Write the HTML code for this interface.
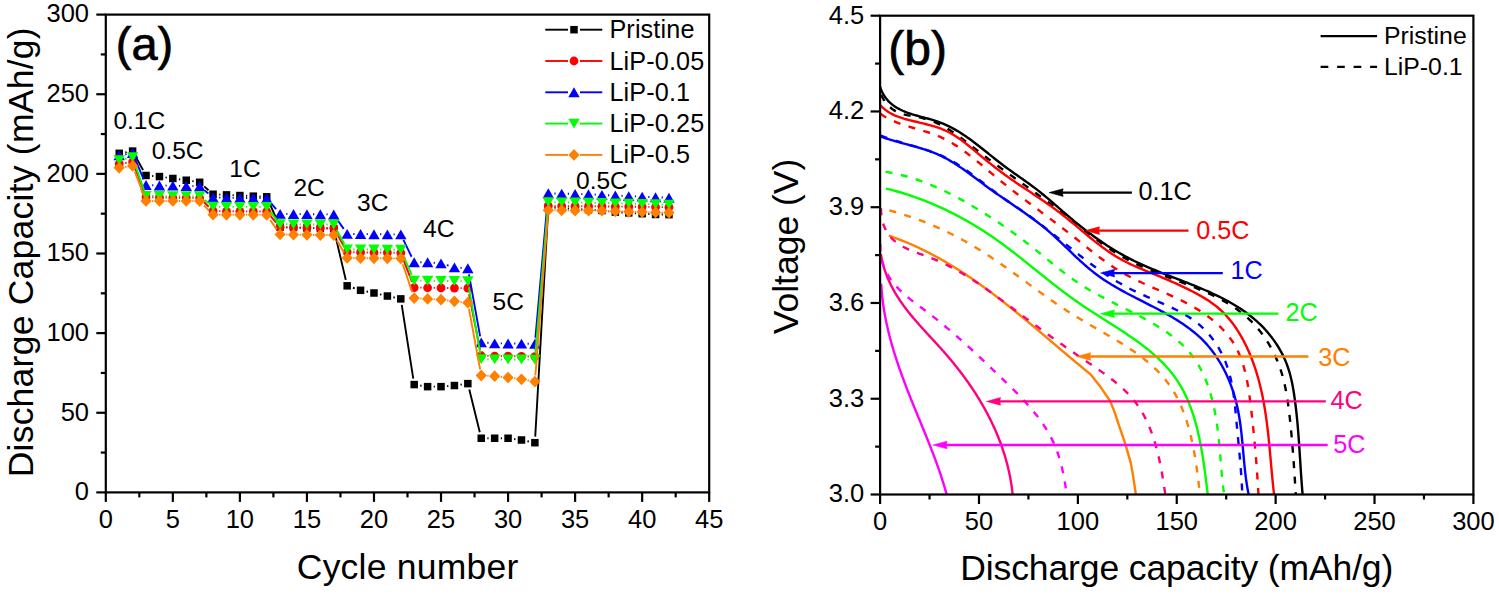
<!DOCTYPE html>
<html><head><meta charset="utf-8"><style>
html,body{margin:0;padding:0;background:#fff;}
svg{display:block;font-family:"Liberation Sans",sans-serif;}
</style></head><body>
<svg width="1499" height="594" viewBox="0 0 1499 594">
<rect width="1499" height="594" fill="#fff"/>
<line x1="105.80" y1="492.40" x2="105.80" y2="501.90" stroke="#000" stroke-width="2.2" />
<text x="105.80" y="528.00" font-size="25.5" text-anchor="middle" fill="#000" >0</text>
<line x1="172.84" y1="492.40" x2="172.84" y2="501.90" stroke="#000" stroke-width="2.2" />
<text x="172.84" y="528.00" font-size="25.5" text-anchor="middle" fill="#000" >5</text>
<line x1="239.89" y1="492.40" x2="239.89" y2="501.90" stroke="#000" stroke-width="2.2" />
<text x="239.89" y="528.00" font-size="25.5" text-anchor="middle" fill="#000" >10</text>
<line x1="306.93" y1="492.40" x2="306.93" y2="501.90" stroke="#000" stroke-width="2.2" />
<text x="306.93" y="528.00" font-size="25.5" text-anchor="middle" fill="#000" >15</text>
<line x1="373.98" y1="492.40" x2="373.98" y2="501.90" stroke="#000" stroke-width="2.2" />
<text x="373.98" y="528.00" font-size="25.5" text-anchor="middle" fill="#000" >20</text>
<line x1="441.02" y1="492.40" x2="441.02" y2="501.90" stroke="#000" stroke-width="2.2" />
<text x="441.02" y="528.00" font-size="25.5" text-anchor="middle" fill="#000" >25</text>
<line x1="508.07" y1="492.40" x2="508.07" y2="501.90" stroke="#000" stroke-width="2.2" />
<text x="508.07" y="528.00" font-size="25.5" text-anchor="middle" fill="#000" >30</text>
<line x1="575.11" y1="492.40" x2="575.11" y2="501.90" stroke="#000" stroke-width="2.2" />
<text x="575.11" y="528.00" font-size="25.5" text-anchor="middle" fill="#000" >35</text>
<line x1="642.16" y1="492.40" x2="642.16" y2="501.90" stroke="#000" stroke-width="2.2" />
<text x="642.16" y="528.00" font-size="25.5" text-anchor="middle" fill="#000" >40</text>
<line x1="709.20" y1="492.40" x2="709.20" y2="501.90" stroke="#000" stroke-width="2.2" />
<text x="709.20" y="528.00" font-size="25.5" text-anchor="middle" fill="#000" >45</text>
<line x1="139.32" y1="492.40" x2="139.32" y2="497.40" stroke="#000" stroke-width="2.2" />
<line x1="206.37" y1="492.40" x2="206.37" y2="497.40" stroke="#000" stroke-width="2.2" />
<line x1="273.41" y1="492.40" x2="273.41" y2="497.40" stroke="#000" stroke-width="2.2" />
<line x1="340.46" y1="492.40" x2="340.46" y2="497.40" stroke="#000" stroke-width="2.2" />
<line x1="407.50" y1="492.40" x2="407.50" y2="497.40" stroke="#000" stroke-width="2.2" />
<line x1="474.54" y1="492.40" x2="474.54" y2="497.40" stroke="#000" stroke-width="2.2" />
<line x1="541.59" y1="492.40" x2="541.59" y2="497.40" stroke="#000" stroke-width="2.2" />
<line x1="608.63" y1="492.40" x2="608.63" y2="497.40" stroke="#000" stroke-width="2.2" />
<line x1="675.68" y1="492.40" x2="675.68" y2="497.40" stroke="#000" stroke-width="2.2" />
<line x1="105.80" y1="492.40" x2="96.30" y2="492.40" stroke="#000" stroke-width="2.2" />
<text x="89.00" y="500.20" font-size="25.5" text-anchor="end" fill="#000" >0</text>
<line x1="105.80" y1="412.77" x2="96.30" y2="412.77" stroke="#000" stroke-width="2.2" />
<text x="89.00" y="420.57" font-size="25.5" text-anchor="end" fill="#000" >50</text>
<line x1="105.80" y1="333.13" x2="96.30" y2="333.13" stroke="#000" stroke-width="2.2" />
<text x="89.00" y="340.93" font-size="25.5" text-anchor="end" fill="#000" >100</text>
<line x1="105.80" y1="253.50" x2="96.30" y2="253.50" stroke="#000" stroke-width="2.2" />
<text x="89.00" y="261.30" font-size="25.5" text-anchor="end" fill="#000" >150</text>
<line x1="105.80" y1="173.87" x2="96.30" y2="173.87" stroke="#000" stroke-width="2.2" />
<text x="89.00" y="181.67" font-size="25.5" text-anchor="end" fill="#000" >200</text>
<line x1="105.80" y1="94.23" x2="96.30" y2="94.23" stroke="#000" stroke-width="2.2" />
<text x="89.00" y="102.03" font-size="25.5" text-anchor="end" fill="#000" >250</text>
<line x1="105.80" y1="14.60" x2="96.30" y2="14.60" stroke="#000" stroke-width="2.2" />
<text x="89.00" y="22.40" font-size="25.5" text-anchor="end" fill="#000" >300</text>
<line x1="105.80" y1="452.58" x2="100.80" y2="452.58" stroke="#000" stroke-width="2.2" />
<line x1="105.80" y1="372.95" x2="100.80" y2="372.95" stroke="#000" stroke-width="2.2" />
<line x1="105.80" y1="293.32" x2="100.80" y2="293.32" stroke="#000" stroke-width="2.2" />
<line x1="105.80" y1="213.68" x2="100.80" y2="213.68" stroke="#000" stroke-width="2.2" />
<line x1="105.80" y1="134.05" x2="100.80" y2="134.05" stroke="#000" stroke-width="2.2" />
<line x1="105.80" y1="54.42" x2="100.80" y2="54.42" stroke="#000" stroke-width="2.2" />
<line x1="880.10" y1="494.50" x2="880.10" y2="504.00" stroke="#000" stroke-width="2.2" />
<text x="880.10" y="530.00" font-size="25.5" text-anchor="middle" fill="#000" >0</text>
<line x1="978.98" y1="494.50" x2="978.98" y2="504.00" stroke="#000" stroke-width="2.2" />
<text x="978.98" y="530.00" font-size="25.5" text-anchor="middle" fill="#000" >50</text>
<line x1="1077.87" y1="494.50" x2="1077.87" y2="504.00" stroke="#000" stroke-width="2.2" />
<text x="1077.87" y="530.00" font-size="25.5" text-anchor="middle" fill="#000" >100</text>
<line x1="1176.75" y1="494.50" x2="1176.75" y2="504.00" stroke="#000" stroke-width="2.2" />
<text x="1176.75" y="530.00" font-size="25.5" text-anchor="middle" fill="#000" >150</text>
<line x1="1275.63" y1="494.50" x2="1275.63" y2="504.00" stroke="#000" stroke-width="2.2" />
<text x="1275.63" y="530.00" font-size="25.5" text-anchor="middle" fill="#000" >200</text>
<line x1="1374.52" y1="494.50" x2="1374.52" y2="504.00" stroke="#000" stroke-width="2.2" />
<text x="1374.52" y="530.00" font-size="25.5" text-anchor="middle" fill="#000" >250</text>
<line x1="1473.40" y1="494.50" x2="1473.40" y2="504.00" stroke="#000" stroke-width="2.2" />
<text x="1473.40" y="530.00" font-size="25.5" text-anchor="middle" fill="#000" >300</text>
<line x1="929.54" y1="494.50" x2="929.54" y2="499.50" stroke="#000" stroke-width="2.2" />
<line x1="1028.42" y1="494.50" x2="1028.42" y2="499.50" stroke="#000" stroke-width="2.2" />
<line x1="1127.31" y1="494.50" x2="1127.31" y2="499.50" stroke="#000" stroke-width="2.2" />
<line x1="1226.19" y1="494.50" x2="1226.19" y2="499.50" stroke="#000" stroke-width="2.2" />
<line x1="1325.08" y1="494.50" x2="1325.08" y2="499.50" stroke="#000" stroke-width="2.2" />
<line x1="1423.96" y1="494.50" x2="1423.96" y2="499.50" stroke="#000" stroke-width="2.2" />
<line x1="880.10" y1="494.50" x2="870.60" y2="494.50" stroke="#000" stroke-width="2.2" />
<text x="864.30" y="502.30" font-size="25.5" text-anchor="end" fill="#000" >3.0</text>
<line x1="880.10" y1="398.74" x2="870.60" y2="398.74" stroke="#000" stroke-width="2.2" />
<text x="864.30" y="406.54" font-size="25.5" text-anchor="end" fill="#000" >3.3</text>
<line x1="880.10" y1="302.98" x2="870.60" y2="302.98" stroke="#000" stroke-width="2.2" />
<text x="864.30" y="310.78" font-size="25.5" text-anchor="end" fill="#000" >3.6</text>
<line x1="880.10" y1="207.22" x2="870.60" y2="207.22" stroke="#000" stroke-width="2.2" />
<text x="864.30" y="215.02" font-size="25.5" text-anchor="end" fill="#000" >3.9</text>
<line x1="880.10" y1="111.46" x2="870.60" y2="111.46" stroke="#000" stroke-width="2.2" />
<text x="864.30" y="119.26" font-size="25.5" text-anchor="end" fill="#000" >4.2</text>
<line x1="880.10" y1="15.70" x2="870.60" y2="15.70" stroke="#000" stroke-width="2.2" />
<text x="864.30" y="23.50" font-size="25.5" text-anchor="end" fill="#000" >4.5</text>
<line x1="880.10" y1="446.62" x2="875.10" y2="446.62" stroke="#000" stroke-width="2.2" />
<line x1="880.10" y1="350.86" x2="875.10" y2="350.86" stroke="#000" stroke-width="2.2" />
<line x1="880.10" y1="255.10" x2="875.10" y2="255.10" stroke="#000" stroke-width="2.2" />
<line x1="880.10" y1="159.34" x2="875.10" y2="159.34" stroke="#000" stroke-width="2.2" />
<line x1="880.10" y1="63.58" x2="875.10" y2="63.58" stroke="#000" stroke-width="2.2" />
<text x="407.70" y="579.00" font-size="35.5" text-anchor="middle" fill="#000" letter-spacing="0.24">Cycle number</text>
<text x="33.30" y="252.30" font-size="35.5" text-anchor="middle" fill="#000" letter-spacing="0.24" transform="rotate(-90 33.3 252.3)">Discharge Capacity (mAh/g)</text>
<text x="1176.75" y="580.00" font-size="35.5" text-anchor="middle" fill="#000" letter-spacing="-0.12">Discharge capacity (mAh/g)</text>
<text x="798.40" y="246.50" font-size="35.5" text-anchor="middle" fill="#000" transform="rotate(-90 798.4 246.5)">Voltage (V)</text>
<text x="144.50" y="60.30" font-size="47" text-anchor="middle" fill="#000" stroke="#000" stroke-width="0.7">(a)</text>
<text x="917.70" y="65.00" font-size="48" text-anchor="middle" fill="#000" stroke="#000" stroke-width="0.7">(b)</text>
<path d="M125.23,152.32L126.60,152.09M135.56,156.44L143.09,170.12M152.11,175.96L153.36,176.07M165.47,177.43L166.81,177.62M178.89,179.28L180.20,179.45M192.28,181.17L193.63,181.38M204.22,186.37L208.52,190.20M219.16,194.54L220.39,194.60M232.57,195.18L233.80,195.24M245.98,195.82L247.20,195.87M259.39,196.45L260.61,196.51M269.17,202.38L277.66,221.64M286.21,227.37L287.43,227.39M299.62,227.76L300.84,227.80M313.03,228.16L314.24,228.19M326.44,228.48L327.65,228.51M335.14,234.59L345.77,279.89M352.95,287.76L354.78,288.37M366.55,291.50L368.00,291.79M379.93,294.34L381.44,294.68M393.35,297.30L394.83,297.62M401.74,304.92L413.26,378.55M420.23,385.51L421.58,385.72M433.71,386.65L434.92,386.65M447.10,386.14L448.35,386.04M460.47,384.67L461.80,384.48M469.29,389.55L479.79,432.33M487.35,438.25L488.56,438.25M500.76,438.25L501.97,438.25M514.12,439.04L515.43,439.21M527.45,441.21L528.91,441.50M535.23,436.62L547.95,213.40M554.38,207.67L555.61,207.75M567.79,208.47L569.02,208.54M581.20,209.27L582.43,209.34M594.61,210.06L595.84,210.14M607.99,211.22L609.28,211.37M621.43,212.45L622.66,212.53M634.84,213.25L636.07,213.32M648.24,214.04L649.48,214.12M661.66,214.55L662.87,214.57" stroke="#000000" stroke-width="1.9" fill="none"/>
<rect x="115.46" y="149.57" width="7.5" height="7.5" fill="#000000"/><rect x="128.87" y="147.34" width="7.5" height="7.5" fill="#000000"/><rect x="142.28" y="171.71" width="7.5" height="7.5" fill="#000000"/><rect x="155.69" y="172.82" width="7.5" height="7.5" fill="#000000"/><rect x="169.09" y="174.74" width="7.5" height="7.5" fill="#000000"/><rect x="182.50" y="176.49" width="7.5" height="7.5" fill="#000000"/><rect x="195.91" y="178.56" width="7.5" height="7.5" fill="#000000"/><rect x="209.32" y="190.50" width="7.5" height="7.5" fill="#000000"/><rect x="222.73" y="191.14" width="7.5" height="7.5" fill="#000000"/><rect x="236.14" y="191.78" width="7.5" height="7.5" fill="#000000"/><rect x="249.55" y="192.41" width="7.5" height="7.5" fill="#000000"/><rect x="262.96" y="193.05" width="7.5" height="7.5" fill="#000000"/><rect x="276.37" y="223.47" width="7.5" height="7.5" fill="#000000"/><rect x="289.77" y="223.79" width="7.5" height="7.5" fill="#000000"/><rect x="303.18" y="224.27" width="7.5" height="7.5" fill="#000000"/><rect x="316.59" y="224.59" width="7.5" height="7.5" fill="#000000"/><rect x="330.00" y="224.90" width="7.5" height="7.5" fill="#000000"/><rect x="343.41" y="282.08" width="7.5" height="7.5" fill="#000000"/><rect x="356.82" y="286.54" width="7.5" height="7.5" fill="#000000"/><rect x="370.23" y="289.25" width="7.5" height="7.5" fill="#000000"/><rect x="383.64" y="292.27" width="7.5" height="7.5" fill="#000000"/><rect x="397.05" y="295.14" width="7.5" height="7.5" fill="#000000"/><rect x="410.45" y="380.83" width="7.5" height="7.5" fill="#000000"/><rect x="423.86" y="382.90" width="7.5" height="7.5" fill="#000000"/><rect x="437.27" y="382.90" width="7.5" height="7.5" fill="#000000"/><rect x="450.68" y="381.78" width="7.5" height="7.5" fill="#000000"/><rect x="464.09" y="379.87" width="7.5" height="7.5" fill="#000000"/><rect x="477.50" y="434.50" width="7.5" height="7.5" fill="#000000"/><rect x="490.91" y="434.50" width="7.5" height="7.5" fill="#000000"/><rect x="504.32" y="434.50" width="7.5" height="7.5" fill="#000000"/><rect x="517.73" y="436.25" width="7.5" height="7.5" fill="#000000"/><rect x="531.13" y="438.96" width="7.5" height="7.5" fill="#000000"/><rect x="544.54" y="203.56" width="7.5" height="7.5" fill="#000000"/><rect x="557.95" y="204.36" width="7.5" height="7.5" fill="#000000"/><rect x="571.36" y="205.16" width="7.5" height="7.5" fill="#000000"/><rect x="584.77" y="205.95" width="7.5" height="7.5" fill="#000000"/><rect x="598.18" y="206.75" width="7.5" height="7.5" fill="#000000"/><rect x="611.59" y="208.34" width="7.5" height="7.5" fill="#000000"/><rect x="625.00" y="209.14" width="7.5" height="7.5" fill="#000000"/><rect x="638.41" y="209.93" width="7.5" height="7.5" fill="#000000"/><rect x="651.81" y="210.73" width="7.5" height="7.5" fill="#000000"/><rect x="665.22" y="210.89" width="7.5" height="7.5" fill="#000000"/>
<path d="M125.25,162.97L126.58,162.78M134.80,167.62L143.85,191.26M152.12,197.18L153.34,197.22M165.53,197.58L166.75,197.61M178.94,197.76L180.15,197.76M192.35,197.90L193.56,197.93M204.06,202.30L208.68,206.75M219.17,211.12L220.38,211.15M232.58,211.29L233.79,211.29M245.99,211.37L247.20,211.38M259.40,211.53L260.61,211.54M270.68,216.24L276.14,222.59M286.21,227.37L287.43,227.39M299.62,227.61L300.83,227.63M313.03,227.84L314.24,227.87M326.44,228.02L327.65,228.02M336.72,233.35L344.19,246.74M353.26,252.21L354.47,252.24M366.67,252.46L367.88,252.47M380.08,252.62L381.29,252.63M393.49,252.78L394.70,252.79M402.99,258.55L412.01,281.89M420.30,287.66L421.51,287.67M433.71,287.81L434.92,287.83M447.12,287.97L448.33,287.99M460.53,288.13L461.74,288.15M469.03,294.20L480.06,349.77M487.35,355.89L488.56,355.92M500.76,356.14L501.97,356.15M514.17,356.30L515.38,356.31M527.58,356.46L528.78,356.47M535.43,350.47L547.75,211.96M554.39,205.95L555.60,205.97M567.80,206.11L569.01,206.13M581.21,206.20L582.42,206.20M594.62,206.27L595.83,206.28M608.03,206.43L609.24,206.44M621.44,206.59L622.65,206.60M634.85,206.75L636.06,206.76M648.26,206.91L649.46,206.92M661.66,207.14L662.88,207.17" stroke="#FF0000" stroke-width="1.9" fill="none"/>
<circle cx="119.21" cy="163.83" r="4.4" fill="#FF0000"/><circle cx="132.62" cy="161.92" r="4.4" fill="#FF0000"/><circle cx="146.03" cy="196.96" r="4.4" fill="#FF0000"/><circle cx="159.44" cy="197.44" r="4.4" fill="#FF0000"/><circle cx="172.84" cy="197.76" r="4.4" fill="#FF0000"/><circle cx="186.25" cy="197.76" r="4.4" fill="#FF0000"/><circle cx="199.66" cy="198.08" r="4.4" fill="#FF0000"/><circle cx="213.07" cy="210.98" r="4.4" fill="#FF0000"/><circle cx="226.48" cy="211.29" r="4.4" fill="#FF0000"/><circle cx="239.89" cy="211.29" r="4.4" fill="#FF0000"/><circle cx="253.30" cy="211.45" r="4.4" fill="#FF0000"/><circle cx="266.71" cy="211.61" r="4.4" fill="#FF0000"/><circle cx="280.12" cy="227.22" r="4.4" fill="#FF0000"/><circle cx="293.52" cy="227.54" r="4.4" fill="#FF0000"/><circle cx="306.93" cy="227.70" r="4.4" fill="#FF0000"/><circle cx="320.34" cy="228.02" r="4.4" fill="#FF0000"/><circle cx="333.75" cy="228.02" r="4.4" fill="#FF0000"/><circle cx="347.16" cy="252.07" r="4.4" fill="#FF0000"/><circle cx="360.57" cy="252.39" r="4.4" fill="#FF0000"/><circle cx="373.98" cy="252.54" r="4.4" fill="#FF0000"/><circle cx="387.39" cy="252.70" r="4.4" fill="#FF0000"/><circle cx="400.80" cy="252.86" r="4.4" fill="#FF0000"/><circle cx="414.20" cy="287.58" r="4.4" fill="#FF0000"/><circle cx="427.61" cy="287.74" r="4.4" fill="#FF0000"/><circle cx="441.02" cy="287.90" r="4.4" fill="#FF0000"/><circle cx="454.43" cy="288.06" r="4.4" fill="#FF0000"/><circle cx="467.84" cy="288.22" r="4.4" fill="#FF0000"/><circle cx="481.25" cy="355.75" r="4.4" fill="#FF0000"/><circle cx="494.66" cy="356.07" r="4.4" fill="#FF0000"/><circle cx="508.07" cy="356.23" r="4.4" fill="#FF0000"/><circle cx="521.48" cy="356.39" r="4.4" fill="#FF0000"/><circle cx="534.88" cy="356.55" r="4.4" fill="#FF0000"/><circle cx="548.29" cy="205.88" r="4.4" fill="#FF0000"/><circle cx="561.70" cy="206.04" r="4.4" fill="#FF0000"/><circle cx="575.11" cy="206.20" r="4.4" fill="#FF0000"/><circle cx="588.52" cy="206.20" r="4.4" fill="#FF0000"/><circle cx="601.93" cy="206.36" r="4.4" fill="#FF0000"/><circle cx="615.34" cy="206.52" r="4.4" fill="#FF0000"/><circle cx="628.75" cy="206.68" r="4.4" fill="#FF0000"/><circle cx="642.16" cy="206.83" r="4.4" fill="#FF0000"/><circle cx="655.56" cy="206.99" r="4.4" fill="#FF0000"/><circle cx="668.97" cy="207.31" r="4.4" fill="#FF0000"/>
<path d="M125.21,154.32L126.61,154.07M134.97,158.63L143.67,179.39M152.12,185.23L153.34,185.28M165.54,185.57L166.74,185.58M178.94,185.80L180.16,185.83M192.35,186.12L193.56,186.14M204.35,190.19L208.38,193.54M219.17,197.58L220.38,197.61M232.58,197.83L233.79,197.84M245.99,197.99L247.20,198.00M259.40,198.15L260.61,198.16M270.68,202.86L276.14,209.22M286.22,213.92L287.42,213.93M299.62,214.07L300.83,214.09M313.03,214.23L314.24,214.25M326.44,214.39L327.65,214.41M337.22,219.50L343.70,228.89M353.26,233.98L354.47,234.00M366.67,234.14L367.88,234.16M380.08,234.30L381.29,234.32M393.49,234.39L394.70,234.39M403.44,239.88L411.56,256.76M420.30,262.26L421.51,262.26M433.69,262.77L434.94,262.87M446.87,265.11L448.58,265.62M460.52,267.79L461.76,267.88M468.93,274.31L480.16,336.37M487.33,342.80L488.57,342.89M500.76,343.40L501.97,343.41M514.17,343.56L515.38,343.57M527.58,343.72L528.78,343.73M535.43,337.73L547.75,199.37M554.39,193.44L555.60,193.47M567.80,193.76L569.01,193.79M581.21,194.08L582.42,194.11M594.61,194.54L595.84,194.60M608.02,195.18L609.24,195.24M621.43,195.82L622.65,195.87M634.84,196.38L636.06,196.42M648.25,196.93L649.47,196.99M661.66,197.50L662.88,197.54" stroke="#0000FF" stroke-width="1.9" fill="none"/>
<path d="M119.21,150.44L124.91,160.34L113.51,160.34Z" fill="#0000FF"/><path d="M132.62,148.05L138.32,157.95L126.92,157.95Z" fill="#0000FF"/><path d="M146.03,180.07L151.73,189.97L140.33,189.97Z" fill="#0000FF"/><path d="M159.44,180.54L165.14,190.44L153.74,190.44Z" fill="#0000FF"/><path d="M172.84,180.70L178.54,190.60L167.14,190.60Z" fill="#0000FF"/><path d="M186.25,181.02L191.95,190.92L180.55,190.92Z" fill="#0000FF"/><path d="M199.66,181.34L205.36,191.24L193.96,191.24Z" fill="#0000FF"/><path d="M213.07,192.49L218.77,202.39L207.37,202.39Z" fill="#0000FF"/><path d="M226.48,192.81L232.18,202.71L220.78,202.71Z" fill="#0000FF"/><path d="M239.89,192.97L245.59,202.87L234.19,202.87Z" fill="#0000FF"/><path d="M253.30,193.13L259.00,203.03L247.60,203.03Z" fill="#0000FF"/><path d="M266.71,193.28L272.41,203.18L261.01,203.18Z" fill="#0000FF"/><path d="M280.12,208.89L285.82,218.79L274.42,218.79Z" fill="#0000FF"/><path d="M293.52,209.05L299.22,218.95L287.82,218.95Z" fill="#0000FF"/><path d="M306.93,209.21L312.63,219.11L301.23,219.11Z" fill="#0000FF"/><path d="M320.34,209.37L326.04,219.27L314.64,219.27Z" fill="#0000FF"/><path d="M333.75,209.53L339.45,219.43L328.05,219.43Z" fill="#0000FF"/><path d="M347.16,228.96L352.86,238.86L341.46,238.86Z" fill="#0000FF"/><path d="M360.57,229.12L366.27,239.02L354.87,239.02Z" fill="#0000FF"/><path d="M373.98,229.28L379.68,239.18L368.28,239.18Z" fill="#0000FF"/><path d="M387.39,229.44L393.09,239.34L381.69,239.34Z" fill="#0000FF"/><path d="M400.80,229.44L406.50,239.34L395.10,239.34Z" fill="#0000FF"/><path d="M414.20,257.31L419.90,267.21L408.50,267.21Z" fill="#0000FF"/><path d="M427.61,257.31L433.31,267.21L421.91,267.21Z" fill="#0000FF"/><path d="M441.02,258.42L446.72,268.32L435.32,268.32Z" fill="#0000FF"/><path d="M454.43,262.41L460.13,272.31L448.73,272.31Z" fill="#0000FF"/><path d="M467.84,263.36L473.54,273.26L462.14,273.26Z" fill="#0000FF"/><path d="M481.25,337.42L486.95,347.32L475.55,347.32Z" fill="#0000FF"/><path d="M494.66,338.38L500.36,348.28L488.96,348.28Z" fill="#0000FF"/><path d="M508.07,338.54L513.77,348.44L502.37,348.44Z" fill="#0000FF"/><path d="M521.48,338.69L527.18,348.59L515.78,348.59Z" fill="#0000FF"/><path d="M534.88,338.85L540.58,348.75L529.18,348.75Z" fill="#0000FF"/><path d="M548.29,188.35L553.99,198.25L542.59,198.25Z" fill="#0000FF"/><path d="M561.70,188.67L567.40,198.57L556.00,198.57Z" fill="#0000FF"/><path d="M575.11,188.98L580.81,198.88L569.41,198.88Z" fill="#0000FF"/><path d="M588.52,189.30L594.22,199.20L582.82,199.20Z" fill="#0000FF"/><path d="M601.93,189.94L607.63,199.84L596.23,199.84Z" fill="#0000FF"/><path d="M615.34,190.58L621.04,200.48L609.64,200.48Z" fill="#0000FF"/><path d="M628.75,191.21L634.45,201.11L623.05,201.11Z" fill="#0000FF"/><path d="M642.16,191.69L647.86,201.59L636.46,201.59Z" fill="#0000FF"/><path d="M655.56,192.33L661.26,202.23L649.86,202.23Z" fill="#0000FF"/><path d="M668.97,192.81L674.67,202.71L663.27,202.71Z" fill="#0000FF"/>
<path d="M125.17,158.89L126.65,158.58M134.62,163.06L144.02,190.08M152.13,195.92L153.34,195.93M165.54,196.08L166.74,196.09M178.94,196.16L180.15,196.16M192.35,196.24L193.56,196.25M204.49,200.05L208.24,202.95M219.17,206.75L220.38,206.76M232.58,206.83L233.79,206.83M245.99,206.91L247.20,206.92M259.40,206.99L260.61,206.99M270.46,211.81L276.37,219.38M286.22,224.27L287.42,224.28M299.62,224.35L300.83,224.35M313.03,224.43L314.24,224.44M326.44,224.51L327.65,224.51M336.65,229.88L344.26,243.99M353.26,249.43L354.47,249.45M366.67,249.52L367.88,249.52M380.08,249.59L381.29,249.61M393.49,249.68L394.70,249.68M403.22,255.27L411.78,274.98M420.30,280.65L421.51,280.66M433.71,280.81L434.92,280.82M447.12,280.97L448.33,280.98M460.53,281.13L461.74,281.14M468.87,287.22L480.22,353.24M487.35,359.33L488.56,359.34M500.76,359.48L501.97,359.50M514.17,359.57L515.38,359.57M527.58,359.64L528.78,359.66M535.40,353.65L547.78,208.29M554.39,202.29L555.60,202.30M567.80,202.45L569.01,202.46M581.21,202.61L582.42,202.62M594.62,202.84L595.83,202.87M608.03,203.16L609.24,203.19M621.44,203.48L622.65,203.50M634.84,203.79L636.06,203.82M648.25,204.11L649.47,204.14M661.66,204.43L662.88,204.46" stroke="#00FF00" stroke-width="1.9" fill="none"/>
<path d="M119.21,165.12L124.91,155.22L113.51,155.22Z" fill="#00FF00"/><path d="M132.62,162.25L138.32,152.35L126.92,152.35Z" fill="#00FF00"/><path d="M146.03,200.80L151.73,190.90L140.33,190.90Z" fill="#00FF00"/><path d="M159.44,200.95L165.14,191.05L153.74,191.05Z" fill="#00FF00"/><path d="M172.84,201.11L178.54,191.21L167.14,191.21Z" fill="#00FF00"/><path d="M186.25,201.11L191.95,191.21L180.55,191.21Z" fill="#00FF00"/><path d="M199.66,201.27L205.36,191.37L193.96,191.37Z" fill="#00FF00"/><path d="M213.07,211.63L218.77,201.73L207.37,201.73Z" fill="#00FF00"/><path d="M226.48,211.78L232.18,201.88L220.78,201.88Z" fill="#00FF00"/><path d="M239.89,211.78L245.59,201.88L234.19,201.88Z" fill="#00FF00"/><path d="M253.30,211.94L259.00,202.04L247.60,202.04Z" fill="#00FF00"/><path d="M266.71,211.94L272.41,202.04L261.01,202.04Z" fill="#00FF00"/><path d="M280.12,229.14L285.82,219.24L274.42,219.24Z" fill="#00FF00"/><path d="M293.52,229.30L299.22,219.40L287.82,219.40Z" fill="#00FF00"/><path d="M306.93,229.30L312.63,219.40L301.23,219.40Z" fill="#00FF00"/><path d="M320.34,229.46L326.04,219.56L314.64,219.56Z" fill="#00FF00"/><path d="M333.75,229.46L339.45,219.56L328.05,219.56Z" fill="#00FF00"/><path d="M347.16,254.31L352.86,244.41L341.46,244.41Z" fill="#00FF00"/><path d="M360.57,254.47L366.27,244.57L354.87,244.57Z" fill="#00FF00"/><path d="M373.98,254.47L379.68,244.57L368.28,244.57Z" fill="#00FF00"/><path d="M387.39,254.63L393.09,244.73L381.69,244.73Z" fill="#00FF00"/><path d="M400.80,254.63L406.50,244.73L395.10,244.73Z" fill="#00FF00"/><path d="M414.20,285.53L419.90,275.63L408.50,275.63Z" fill="#00FF00"/><path d="M427.61,285.68L433.31,275.78L421.91,275.78Z" fill="#00FF00"/><path d="M441.02,285.84L446.72,275.94L435.32,275.94Z" fill="#00FF00"/><path d="M454.43,286.00L460.13,276.10L448.73,276.10Z" fill="#00FF00"/><path d="M467.84,286.16L473.54,276.26L462.14,276.26Z" fill="#00FF00"/><path d="M481.25,364.20L486.95,354.30L475.55,354.30Z" fill="#00FF00"/><path d="M494.66,364.36L500.36,354.46L488.96,354.46Z" fill="#00FF00"/><path d="M508.07,364.52L513.77,354.62L502.37,354.62Z" fill="#00FF00"/><path d="M521.48,364.52L527.18,354.62L515.78,354.62Z" fill="#00FF00"/><path d="M534.88,364.68L540.58,354.78L529.18,354.78Z" fill="#00FF00"/><path d="M548.29,207.17L553.99,197.27L542.59,197.27Z" fill="#00FF00"/><path d="M561.70,207.33L567.40,197.43L556.00,197.43Z" fill="#00FF00"/><path d="M575.11,207.48L580.81,197.58L569.41,197.58Z" fill="#00FF00"/><path d="M588.52,207.64L594.22,197.74L582.82,197.74Z" fill="#00FF00"/><path d="M601.93,207.96L607.63,198.06L596.23,198.06Z" fill="#00FF00"/><path d="M615.34,208.28L621.04,198.38L609.64,198.38Z" fill="#00FF00"/><path d="M628.75,208.60L634.45,198.70L623.05,198.70Z" fill="#00FF00"/><path d="M642.16,208.92L647.86,199.02L636.46,199.02Z" fill="#00FF00"/><path d="M655.56,209.24L661.26,199.34L649.86,199.34Z" fill="#00FF00"/><path d="M668.97,209.56L674.67,199.66L663.27,199.66Z" fill="#00FF00"/>
<path d="M125.25,166.95L126.58,166.76M134.80,171.60L143.85,195.24M152.13,200.94L153.34,200.94M165.54,200.94L166.74,200.94M178.94,200.94L180.15,200.94M192.35,201.01L193.56,201.03M203.95,205.44L208.78,210.31M219.17,214.71L220.38,214.73M232.58,214.80L233.79,214.80M245.99,214.80L247.20,214.80M259.40,214.87L260.61,214.89M270.17,219.98L276.65,229.37M286.21,234.53L287.43,234.56M299.62,234.78L300.83,234.79M313.03,234.94L314.24,234.95M326.44,235.03L327.65,235.03M336.83,240.29L344.08,252.69M353.26,258.03L354.47,258.05M366.67,258.19L367.88,258.21M380.08,258.28L381.29,258.28M393.49,258.35L394.70,258.36M402.75,264.22L412.25,292.32M420.29,298.46L421.52,298.53M433.70,299.25L434.93,299.33M447.08,300.41L448.37,300.56M460.50,301.93L461.77,302.07M468.95,308.71L480.14,369.50M487.34,375.79L488.56,375.85M500.72,376.78L502.00,376.92M514.12,378.36L515.43,378.53M527.49,380.32L528.87,380.55M535.36,375.47L547.82,216.26M554.39,210.25L555.60,210.27M567.80,210.41L569.01,210.43M581.21,210.50L582.42,210.50M594.62,210.57L595.83,210.58M608.02,210.95L609.24,211.00M621.43,211.51L622.65,211.55M634.84,211.92L636.06,211.95M648.25,212.24L649.47,212.26M661.66,212.55L662.88,212.58" stroke="#FF8000" stroke-width="1.9" fill="none"/>
<path d="M119.21,161.91L124.81,167.81L119.21,173.71L113.61,167.81Z" fill="#FF8000"/><path d="M132.62,160.00L138.22,165.90L132.62,171.80L127.02,165.90Z" fill="#FF8000"/><path d="M146.03,195.04L151.63,200.94L146.03,206.84L140.43,200.94Z" fill="#FF8000"/><path d="M159.44,195.04L165.04,200.94L159.44,206.84L153.84,200.94Z" fill="#FF8000"/><path d="M172.84,195.04L178.44,200.94L172.84,206.84L167.24,200.94Z" fill="#FF8000"/><path d="M186.25,195.04L191.85,200.94L186.25,206.84L180.65,200.94Z" fill="#FF8000"/><path d="M199.66,195.20L205.26,201.10L199.66,207.00L194.06,201.10Z" fill="#FF8000"/><path d="M213.07,208.74L218.67,214.64L213.07,220.54L207.47,214.64Z" fill="#FF8000"/><path d="M226.48,208.90L232.08,214.80L226.48,220.70L220.88,214.80Z" fill="#FF8000"/><path d="M239.89,208.90L245.49,214.80L239.89,220.70L234.29,214.80Z" fill="#FF8000"/><path d="M253.30,208.90L258.90,214.80L253.30,220.70L247.70,214.80Z" fill="#FF8000"/><path d="M266.71,209.06L272.31,214.96L266.71,220.86L261.11,214.96Z" fill="#FF8000"/><path d="M280.12,228.49L285.72,234.39L280.12,240.29L274.52,234.39Z" fill="#FF8000"/><path d="M293.52,228.81L299.12,234.71L293.52,240.61L287.92,234.71Z" fill="#FF8000"/><path d="M306.93,228.97L312.53,234.87L306.93,240.77L301.33,234.87Z" fill="#FF8000"/><path d="M320.34,229.13L325.94,235.03L320.34,240.93L314.74,235.03Z" fill="#FF8000"/><path d="M333.75,229.13L339.35,235.03L333.75,240.93L328.15,235.03Z" fill="#FF8000"/><path d="M347.16,252.06L352.76,257.96L347.16,263.86L341.56,257.96Z" fill="#FF8000"/><path d="M360.57,252.22L366.17,258.12L360.57,264.02L354.97,258.12Z" fill="#FF8000"/><path d="M373.98,252.38L379.58,258.28L373.98,264.18L368.38,258.28Z" fill="#FF8000"/><path d="M387.39,252.38L392.99,258.28L387.39,264.18L381.79,258.28Z" fill="#FF8000"/><path d="M400.80,252.54L406.40,258.44L400.80,264.34L395.20,258.44Z" fill="#FF8000"/><path d="M414.20,292.19L419.80,298.09L414.20,303.99L408.60,298.09Z" fill="#FF8000"/><path d="M427.61,292.99L433.21,298.89L427.61,304.79L422.01,298.89Z" fill="#FF8000"/><path d="M441.02,293.79L446.62,299.69L441.02,305.59L435.42,299.69Z" fill="#FF8000"/><path d="M454.43,295.38L460.03,301.28L454.43,307.18L448.83,301.28Z" fill="#FF8000"/><path d="M467.84,296.81L473.44,302.71L467.84,308.61L462.24,302.71Z" fill="#FF8000"/><path d="M481.25,369.60L486.85,375.50L481.25,381.40L475.65,375.50Z" fill="#FF8000"/><path d="M494.66,370.24L500.26,376.14L494.66,382.04L489.06,376.14Z" fill="#FF8000"/><path d="M508.07,371.67L513.67,377.57L508.07,383.47L502.47,377.57Z" fill="#FF8000"/><path d="M521.48,373.42L527.08,379.32L521.48,385.22L515.88,379.32Z" fill="#FF8000"/><path d="M534.88,375.65L540.48,381.55L534.88,387.45L529.28,381.55Z" fill="#FF8000"/><path d="M548.29,204.28L553.89,210.18L548.29,216.08L542.69,210.18Z" fill="#FF8000"/><path d="M561.70,204.44L567.30,210.34L561.70,216.24L556.10,210.34Z" fill="#FF8000"/><path d="M575.11,204.60L580.71,210.50L575.11,216.40L569.51,210.50Z" fill="#FF8000"/><path d="M588.52,204.60L594.12,210.50L588.52,216.40L582.92,210.50Z" fill="#FF8000"/><path d="M601.93,204.76L607.53,210.66L601.93,216.56L596.33,210.66Z" fill="#FF8000"/><path d="M615.34,205.39L620.94,211.29L615.34,217.19L609.74,211.29Z" fill="#FF8000"/><path d="M628.75,205.87L634.35,211.77L628.75,217.67L623.15,211.77Z" fill="#FF8000"/><path d="M642.16,206.19L647.76,212.09L642.16,217.99L636.56,212.09Z" fill="#FF8000"/><path d="M655.56,206.51L661.16,212.41L655.56,218.31L649.96,212.41Z" fill="#FF8000"/><path d="M668.97,206.83L674.57,212.73L668.97,218.63L663.37,212.73Z" fill="#FF8000"/>
<text x="113.40" y="129.00" font-size="24.5" text-anchor="start" fill="#000" >0.1C</text>
<text x="151.80" y="159.30" font-size="24.5" text-anchor="start" fill="#000" >0.5C</text>
<text x="229.30" y="177.40" font-size="24.5" text-anchor="start" fill="#000" >1C</text>
<text x="293.40" y="195.80" font-size="24.5" text-anchor="start" fill="#000" >2C</text>
<text x="357.00" y="210.80" font-size="24.5" text-anchor="start" fill="#000" >3C</text>
<text x="423.10" y="236.60" font-size="24.5" text-anchor="start" fill="#000" >4C</text>
<text x="492.60" y="310.00" font-size="24.5" text-anchor="start" fill="#000" >5C</text>
<text x="576.00" y="188.80" font-size="24.5" text-anchor="start" fill="#000" >0.5C</text>
<line x1="545.30" y1="29.70" x2="568.00" y2="29.70" stroke="#000000" stroke-width="1.9" />
<line x1="580.00" y1="29.70" x2="602.30" y2="29.70" stroke="#000000" stroke-width="1.9" />
<rect x="570.25" y="25.95" width="7.5" height="7.5" fill="#000000"/>
<text x="609.40" y="38.20" font-size="25.2" text-anchor="start" fill="#000" letter-spacing="0.15">Pristine</text>
<line x1="545.30" y1="61.00" x2="568.00" y2="61.00" stroke="#FF0000" stroke-width="1.9" />
<line x1="580.00" y1="61.00" x2="602.30" y2="61.00" stroke="#FF0000" stroke-width="1.9" />
<circle cx="574.00" cy="61.00" r="4.4" fill="#FF0000"/>
<text x="609.40" y="69.50" font-size="25.2" text-anchor="start" fill="#000" letter-spacing="0.15">LiP-0.05</text>
<line x1="545.30" y1="92.30" x2="568.00" y2="92.30" stroke="#0000FF" stroke-width="1.9" />
<line x1="580.00" y1="92.30" x2="602.30" y2="92.30" stroke="#0000FF" stroke-width="1.9" />
<path d="M574.00,87.35L579.70,97.25L568.30,97.25Z" fill="#0000FF"/>
<text x="609.40" y="100.80" font-size="25.2" text-anchor="start" fill="#000" letter-spacing="0.15">LiP-0.1</text>
<line x1="545.30" y1="123.60" x2="568.00" y2="123.60" stroke="#00FF00" stroke-width="1.9" />
<line x1="580.00" y1="123.60" x2="602.30" y2="123.60" stroke="#00FF00" stroke-width="1.9" />
<path d="M574.00,128.55L579.70,118.65L568.30,118.65Z" fill="#00FF00"/>
<text x="609.40" y="132.10" font-size="25.2" text-anchor="start" fill="#000" letter-spacing="0.15">LiP-0.25</text>
<line x1="545.30" y1="154.90" x2="568.00" y2="154.90" stroke="#FF8000" stroke-width="1.9" />
<line x1="580.00" y1="154.90" x2="602.30" y2="154.90" stroke="#FF8000" stroke-width="1.9" />
<path d="M574.00,149.00L579.60,154.90L574.00,160.80L568.40,154.90Z" fill="#FF8000"/>
<text x="609.40" y="163.40" font-size="25.2" text-anchor="start" fill="#000" letter-spacing="0.15">LiP-0.5</text>
<rect x="105.80" y="14.60" width="603.40" height="477.80" fill="none" stroke="#000" stroke-width="2.2"/>
<g fill="none" stroke-width="2.4" stroke-linejoin="round">
<path d="M879.92,86.51 L880.89,89.20 L881.99,91.70 L883.20,94.04 L884.52,96.21 L885.95,98.23 L887.48,100.09 L889.10,101.82 L890.82,103.42 L892.61,104.90 L894.49,106.26 L896.44,107.52 L898.46,108.68 L900.54,109.75 L902.68,110.75 L904.87,111.67 L907.11,112.52 L909.38,113.32 L911.69,114.08 L914.04,114.79 L916.40,115.48 L918.78,116.14 L921.18,116.80 L923.59,117.44 L925.99,118.09 L928.40,118.75 L930.79,119.43 L933.17,120.14 L935.53,120.89 L937.87,121.68 L940.17,122.52 L942.44,123.42 L944.69,124.37 L946.90,125.38 L949.08,126.43 L951.24,127.53 L953.38,128.67 L955.49,129.85 L957.57,131.07 L959.64,132.33 L961.69,133.63 L963.72,134.95 L965.73,136.31 L967.72,137.69 L969.71,139.10 L971.67,140.53 L973.63,141.99 L975.58,143.46 L977.52,144.95 L979.45,146.45 L981.37,147.97 L983.29,149.49 L985.21,151.02 L987.13,152.56 L989.04,154.10 L990.95,155.64 L992.87,157.18 L994.79,158.71 L996.72,160.23 L998.65,161.75 L1000.59,163.26 L1002.54,164.75 L1004.49,166.23 L1006.46,167.69 L1008.44,169.14 L1010.43,170.57 L1012.43,171.99 L1014.42,173.40 L1016.43,174.81 L1018.43,176.22 L1020.44,177.62 L1022.44,179.03 L1024.44,180.44 L1026.44,181.86 L1028.43,183.29 L1030.41,184.72 L1032.39,186.17 L1034.35,187.64 L1036.30,189.13 L1038.24,190.64 L1040.17,192.16 L1042.08,193.70 L1043.98,195.26 L1045.87,196.84 L1047.76,198.42 L1049.64,200.01 L1051.51,201.62 L1053.37,203.23 L1055.24,204.84 L1057.10,206.46 L1058.95,208.07 L1060.81,209.69 L1062.66,211.30 L1064.52,212.91 L1066.38,214.51 L1068.25,216.11 L1070.11,217.69 L1071.99,219.26 L1073.86,220.82 L1075.75,222.37 L1077.64,223.91 L1079.53,225.44 L1081.44,226.95 L1083.34,228.46 L1085.26,229.94 L1087.18,231.42 L1089.12,232.88 L1091.06,234.33 L1093.01,235.77 L1094.96,237.18 L1096.93,238.59 L1098.91,239.98 L1100.89,241.35 L1102.89,242.71 L1104.90,244.05 L1106.92,245.38 L1108.95,246.68 L1110.99,247.98 L1113.04,249.25 L1115.11,250.50 L1117.19,251.74 L1119.28,252.96 L1121.38,254.16 L1123.50,255.34 L1125.63,256.50 L1127.78,257.64 L1129.94,258.76 L1132.12,259.86 L1134.31,260.95 L1136.52,262.01 L1138.73,263.05 L1140.96,264.08 L1143.20,265.09 L1145.45,266.09 L1147.72,267.07 L1149.99,268.05 L1152.27,269.01 L1154.55,269.95 L1156.85,270.89 L1159.15,271.83 L1161.45,272.75 L1163.76,273.67 L1166.08,274.58 L1168.39,275.49 L1170.71,276.39 L1173.04,277.29 L1175.36,278.19 L1177.68,279.09 L1180.00,279.99 L1182.32,280.90 L1184.64,281.80 L1186.96,282.71 L1189.27,283.62 L1191.58,284.54 L1193.88,285.47 L1196.18,286.40 L1198.47,287.34 L1200.76,288.29 L1203.03,289.26 L1205.30,290.23 L1207.56,291.22 L1209.81,292.22 L1212.04,293.24 L1214.27,294.27 L1216.48,295.32 L1218.68,296.38 L1220.87,297.47 L1223.04,298.57 L1225.19,299.70 L1227.33,300.85 L1229.45,302.02 L1231.56,303.21 L1233.65,304.44 L1235.71,305.68 L1237.76,306.95 L1239.79,308.26 L1241.79,309.59 L1243.77,310.95 L1245.73,312.34 L1247.67,313.76 L1249.58,315.22 L1251.47,316.71 L1253.33,318.24 L1255.17,319.80 L1256.97,321.40 L1258.75,323.04 L1260.50,324.71 L1262.22,326.43 L1263.91,328.19 L1265.57,329.99 L1267.20,331.83 L1268.79,333.71 L1270.35,335.64 L1271.87,337.59 L1273.34,339.59 L1274.78,341.61 L1276.18,343.67 L1277.52,345.76 L1278.83,347.88 L1280.08,350.03 L1281.28,352.20 L1282.43,354.40 L1283.53,356.62 L1284.57,358.86 L1285.55,361.12 L1286.48,363.41 L1287.34,365.71 L1288.15,368.02 L1288.89,370.35 L1289.59,372.69 L1290.24,375.05 L1290.84,377.42 L1291.40,379.80 L1291.92,382.19 L1292.41,384.58 L1292.86,386.99 L1293.28,389.40 L1293.68,391.82 L1294.06,394.24 L1294.42,396.67 L1294.76,399.09 L1295.09,401.52 L1295.40,403.96 L1295.70,406.39 L1295.99,408.83 L1296.27,411.27 L1296.53,413.71 L1296.79,416.15 L1297.03,418.59 L1297.27,421.04 L1297.49,423.48 L1297.71,425.93 L1297.92,428.37 L1298.12,430.82 L1298.31,433.27 L1298.50,435.72 L1298.68,438.17 L1298.86,440.62 L1299.03,443.08 L1299.20,445.53 L1299.36,447.98 L1299.53,450.43 L1299.69,452.88 L1299.84,455.34 L1300.00,457.79 L1300.16,460.24 L1300.31,462.69 L1300.47,465.14 L1300.62,467.59 L1300.78,470.04 L1300.94,472.48 L1301.11,474.93 L1301.27,477.38 L1301.44,479.82 L1301.62,482.26 L1301.80,484.70 L1301.99,487.14 L1302.18,489.58 L1302.37,492.02 L1302.58,494.45" stroke="#000000"/>
<path d="M881.10,94.81 L882.33,97.27 L883.66,99.57 L885.10,101.72 L886.65,103.71 L888.29,105.55 L890.03,107.23 L891.87,108.75 L893.80,110.11 L895.82,111.31 L897.93,112.34 L900.13,113.22 L902.39,113.98 L904.72,114.62 L907.09,115.18 L909.49,115.68 L911.92,116.13 L914.36,116.56 L916.80,116.99 L919.23,117.44 L921.63,117.93 L924.00,118.50 L926.33,119.13 L928.62,119.84 L930.87,120.61 L933.09,121.45 L935.27,122.35 L937.43,123.31 L939.55,124.32 L941.64,125.39 L943.71,126.50 L945.76,127.66 L947.78,128.87 L949.78,130.11 L951.76,131.40 L953.73,132.71 L955.68,134.06 L957.61,135.43 L959.53,136.83 L961.44,138.25 L963.35,139.69 L965.24,141.14 L967.14,142.60 L969.02,144.07 L970.91,145.55 L972.80,147.03 L974.68,148.51 L976.58,149.99 L978.47,151.46 L980.38,152.92 L982.29,154.38 L984.20,155.83 L986.12,157.27 L988.04,158.71 L989.97,160.14 L991.90,161.56 L993.83,162.98 L995.77,164.40 L997.71,165.82 L999.66,167.22 L1001.60,168.63 L1003.55,170.03 L1005.50,171.43 L1007.46,172.83 L1009.41,174.23 L1011.36,175.63 L1013.32,177.02 L1015.28,178.41 L1017.23,179.81 L1019.19,181.20 L1021.14,182.59 L1023.10,183.98 L1025.05,185.38 L1027.01,186.78 L1028.96,188.17 L1030.91,189.57 L1032.86,190.98 L1034.80,192.38 L1036.75,193.79 L1038.69,195.20 L1040.62,196.62 L1042.56,198.04 L1044.49,199.46 L1046.41,200.89 L1048.34,202.33 L1050.25,203.77 L1052.17,205.22 L1054.07,206.67 L1055.98,208.13 L1057.87,209.60 L1059.76,211.07 L1061.65,212.55 L1063.54,214.03 L1065.42,215.51 L1067.30,217.00 L1069.18,218.48 L1071.06,219.97 L1072.93,221.46 L1074.81,222.94 L1076.69,224.43 L1078.57,225.91 L1080.45,227.39 L1082.33,228.86 L1084.22,230.33 L1086.11,231.79 L1088.00,233.25 L1089.90,234.70 L1091.81,236.13 L1093.72,237.56 L1095.63,238.98 L1097.56,240.39 L1099.49,241.79 L1101.43,243.17 L1103.37,244.55 L1105.33,245.90 L1107.30,247.24 L1109.27,248.57 L1111.26,249.88 L1113.26,251.17 L1115.27,252.44 L1117.30,253.70 L1119.33,254.93 L1121.39,256.14 L1123.45,257.34 L1125.53,258.51 L1127.63,259.65 L1129.74,260.77 L1131.87,261.87 L1134.02,262.94 L1136.18,264.00 L1138.35,265.03 L1140.54,266.04 L1142.74,267.03 L1144.95,268.00 L1147.17,268.96 L1149.40,269.90 L1151.64,270.83 L1153.89,271.75 L1156.14,272.65 L1158.41,273.55 L1160.67,274.43 L1162.95,275.31 L1165.22,276.18 L1167.50,277.05 L1169.78,277.91 L1172.07,278.77 L1174.35,279.63 L1176.63,280.49 L1178.91,281.35 L1181.19,282.21 L1183.47,283.07 L1185.74,283.94 L1188.01,284.82 L1190.27,285.70 L1192.53,286.59 L1194.78,287.49 L1197.02,288.40 L1199.25,289.32 L1201.47,290.25 L1203.69,291.20 L1205.89,292.17 L1208.07,293.15 L1210.25,294.15 L1212.41,295.17 L1214.56,296.21 L1216.69,297.27 L1218.80,298.35 L1220.90,299.46 L1222.97,300.59 L1225.03,301.75 L1227.07,302.94 L1229.09,304.16 L1231.09,305.40 L1233.06,306.68 L1235.01,307.99 L1236.94,309.34 L1238.84,310.72 L1240.71,312.13 L1242.56,313.59 L1244.38,315.08 L1246.18,316.61 L1247.94,318.19 L1249.67,319.80 L1251.37,321.46 L1253.04,323.17 L1254.68,324.92 L1256.28,326.71 L1257.85,328.54 L1259.39,330.41 L1260.89,332.32 L1262.35,334.26 L1263.78,336.24 L1265.17,338.25 L1266.52,340.29 L1267.83,342.36 L1269.10,344.45 L1270.33,346.57 L1271.52,348.71 L1272.67,350.87 L1273.78,353.05 L1274.84,355.25 L1275.86,357.46 L1276.84,359.68 L1277.76,361.92 L1278.65,364.17 L1279.48,366.43 L1280.27,368.69 L1281.02,370.96 L1281.73,373.24 L1282.40,375.53 L1283.03,377.82 L1283.62,380.12 L1284.18,382.43 L1284.71,384.74 L1285.21,387.06 L1285.68,389.39 L1286.13,391.72 L1286.54,394.06 L1286.94,396.41 L1287.31,398.76 L1287.67,401.11 L1288.01,403.47 L1288.33,405.84 L1288.64,408.20 L1288.93,410.58 L1289.22,412.96 L1289.50,415.34 L1289.76,417.72 L1290.03,420.11 L1290.28,422.50 L1290.53,424.90 L1290.77,427.30 L1291.01,429.70 L1291.24,432.10 L1291.46,434.51 L1291.68,436.91 L1291.89,439.32 L1292.10,441.73 L1292.30,444.14 L1292.49,446.55 L1292.69,448.96 L1292.87,451.37 L1293.06,453.78 L1293.24,456.19 L1293.42,458.60 L1293.59,461.01 L1293.76,463.41 L1293.93,465.82 L1294.09,468.22 L1294.25,470.62 L1294.41,473.02 L1294.57,475.42 L1294.72,477.81 L1294.88,480.20 L1295.03,482.59 L1295.18,484.97 L1295.33,487.35 L1295.48,489.73 L1295.63,492.10 L1295.78,494.46" stroke="#000000" stroke-dasharray="7 8.5"/>
<path d="M880.26,105.06 L881.92,106.80 L883.64,108.39 L885.43,109.86 L887.28,111.21 L889.19,112.44 L891.15,113.57 L893.16,114.60 L895.22,115.54 L897.31,116.41 L899.44,117.20 L901.61,117.93 L903.79,118.61 L906.01,119.24 L908.24,119.84 L910.48,120.41 L912.74,120.96 L915.00,121.50 L917.27,122.03 L919.53,122.57 L921.79,123.11 L924.05,123.66 L926.29,124.22 L928.53,124.81 L930.76,125.41 L932.97,126.05 L935.16,126.72 L937.34,127.43 L939.49,128.19 L941.61,128.99 L943.71,129.84 L945.78,130.76 L947.82,131.73 L949.82,132.77 L951.80,133.87 L953.74,135.02 L955.66,136.22 L957.56,137.47 L959.44,138.76 L961.29,140.09 L963.13,141.46 L964.96,142.85 L966.77,144.27 L968.57,145.72 L970.36,147.18 L972.15,148.65 L973.93,150.14 L975.71,151.63 L977.49,153.12 L979.27,154.61 L981.06,156.10 L982.85,157.58 L984.64,159.05 L986.44,160.52 L988.25,161.98 L990.06,163.44 L991.87,164.88 L993.69,166.31 L995.52,167.74 L997.36,169.15 L999.20,170.55 L1001.05,171.94 L1002.90,173.32 L1004.77,174.69 L1006.64,176.04 L1008.52,177.38 L1010.40,178.71 L1012.29,180.03 L1014.19,181.34 L1016.09,182.64 L1018.00,183.93 L1019.90,185.22 L1021.82,186.50 L1023.73,187.78 L1025.64,189.06 L1027.56,190.33 L1029.48,191.60 L1031.39,192.87 L1033.31,194.15 L1035.22,195.42 L1037.13,196.70 L1039.04,197.98 L1040.94,199.27 L1042.84,200.56 L1044.74,201.86 L1046.63,203.16 L1048.51,204.48 L1050.39,205.80 L1052.26,207.14 L1054.12,208.49 L1055.98,209.85 L1057.82,211.22 L1059.65,212.61 L1061.48,214.02 L1063.29,215.44 L1065.10,216.87 L1066.90,218.32 L1068.69,219.77 L1070.47,221.24 L1072.26,222.71 L1074.03,224.19 L1075.81,225.67 L1077.58,227.15 L1079.35,228.64 L1081.12,230.12 L1082.89,231.61 L1084.66,233.09 L1086.44,234.57 L1088.22,236.04 L1090.00,237.50 L1091.79,238.96 L1093.59,240.40 L1095.40,241.84 L1097.21,243.26 L1099.03,244.66 L1100.86,246.06 L1102.71,247.43 L1104.56,248.78 L1106.43,250.12 L1108.32,251.43 L1110.21,252.72 L1112.13,253.98 L1114.06,255.22 L1116.01,256.43 L1117.98,257.61 L1119.97,258.76 L1121.98,259.88 L1124.01,260.96 L1126.06,262.02 L1128.13,263.05 L1130.21,264.05 L1132.31,265.03 L1134.43,265.99 L1136.55,266.93 L1138.69,267.85 L1140.83,268.76 L1142.98,269.66 L1145.14,270.55 L1147.30,271.43 L1149.47,272.31 L1151.63,273.19 L1153.80,274.07 L1155.96,274.95 L1158.12,275.84 L1160.27,276.73 L1162.42,277.63 L1164.57,278.54 L1166.71,279.45 L1168.85,280.37 L1170.98,281.30 L1173.10,282.24 L1175.22,283.19 L1177.34,284.15 L1179.45,285.12 L1181.55,286.10 L1183.64,287.09 L1185.73,288.10 L1187.81,289.12 L1189.88,290.15 L1191.95,291.20 L1194.00,292.26 L1196.04,293.35 L1198.07,294.45 L1200.08,295.58 L1202.07,296.73 L1204.04,297.90 L1205.99,299.11 L1207.92,300.34 L1209.82,301.61 L1211.69,302.91 L1213.53,304.25 L1215.34,305.62 L1217.12,307.04 L1218.86,308.49 L1220.56,309.99 L1222.23,311.54 L1223.85,313.13 L1225.43,314.76 L1226.98,316.44 L1228.48,318.16 L1229.95,319.91 L1231.38,321.70 L1232.78,323.53 L1234.13,325.38 L1235.45,327.27 L1236.74,329.18 L1237.99,331.12 L1239.21,333.09 L1240.40,335.07 L1241.56,337.08 L1242.68,339.10 L1243.77,341.14 L1244.83,343.19 L1245.86,345.27 L1246.86,347.35 L1247.83,349.45 L1248.78,351.56 L1249.69,353.69 L1250.58,355.83 L1251.44,357.98 L1252.28,360.14 L1253.09,362.32 L1253.87,364.50 L1254.63,366.69 L1255.36,368.90 L1256.07,371.11 L1256.75,373.33 L1257.41,375.56 L1258.05,377.79 L1258.67,380.03 L1259.27,382.28 L1259.84,384.53 L1260.40,386.78 L1260.93,389.04 L1261.44,391.31 L1261.94,393.57 L1262.42,395.84 L1262.87,398.11 L1263.31,400.39 L1263.74,402.66 L1264.15,404.94 L1264.54,407.21 L1264.91,409.49 L1265.28,411.77 L1265.62,414.05 L1265.96,416.33 L1266.28,418.62 L1266.59,420.90 L1266.89,423.19 L1267.18,425.47 L1267.46,427.76 L1267.73,430.05 L1267.99,432.34 L1268.24,434.63 L1268.49,436.93 L1268.73,439.22 L1268.96,441.51 L1269.19,443.81 L1269.41,446.11 L1269.63,448.40 L1269.84,450.70 L1270.05,453.00 L1270.26,455.30 L1270.47,457.60 L1270.68,459.90 L1270.88,462.21 L1271.09,464.51 L1271.29,466.82 L1271.50,469.12 L1271.71,471.43 L1271.92,473.73 L1272.14,476.04 L1272.36,478.35 L1272.59,480.65 L1272.82,482.96 L1273.05,485.27 L1273.29,487.58 L1273.54,489.89 L1273.80,492.20 L1274.07,494.51" stroke="#FF0000"/>
<path d="M880.35,113.71 L882.18,114.97 L884.03,116.16 L885.93,117.28 L887.86,118.34 L889.81,119.34 L891.80,120.28 L893.81,121.18 L895.85,122.03 L897.91,122.84 L899.99,123.62 L902.08,124.36 L904.19,125.07 L906.32,125.76 L908.45,126.43 L910.59,127.09 L912.74,127.73 L914.90,128.36 L917.05,129.00 L919.21,129.63 L921.36,130.27 L923.50,130.92 L925.64,131.58 L927.77,132.26 L929.89,132.96 L932.00,133.69 L934.09,134.45 L936.16,135.25 L938.21,136.08 L940.23,136.96 L942.24,137.88 L944.22,138.84 L946.18,139.84 L948.12,140.88 L950.05,141.96 L951.95,143.07 L953.84,144.21 L955.71,145.38 L957.57,146.59 L959.41,147.82 L961.24,149.08 L963.05,150.36 L964.86,151.67 L966.65,152.99 L968.43,154.34 L970.20,155.71 L971.96,157.09 L973.72,158.49 L975.47,159.90 L977.21,161.32 L978.95,162.76 L980.68,164.20 L982.41,165.65 L984.14,167.10 L985.86,168.56 L987.59,170.02 L989.31,171.48 L991.04,172.94 L992.77,174.39 L994.50,175.84 L996.23,177.29 L997.97,178.73 L999.71,180.16 L1001.46,181.58 L1003.21,182.99 L1004.96,184.40 L1006.72,185.80 L1008.48,187.20 L1010.25,188.59 L1012.02,189.97 L1013.79,191.35 L1015.56,192.72 L1017.34,194.09 L1019.12,195.45 L1020.90,196.81 L1022.68,198.17 L1024.47,199.52 L1026.25,200.87 L1028.04,202.22 L1029.83,203.56 L1031.62,204.90 L1033.41,206.24 L1035.20,207.58 L1037.00,208.92 L1038.79,210.26 L1040.58,211.60 L1042.37,212.93 L1044.17,214.27 L1045.96,215.61 L1047.75,216.95 L1049.54,218.29 L1051.33,219.63 L1053.12,220.97 L1054.90,222.32 L1056.69,223.67 L1058.47,225.02 L1060.25,226.38 L1062.03,227.73 L1063.80,229.10 L1065.58,230.46 L1067.35,231.83 L1069.12,233.21 L1070.88,234.59 L1072.64,235.98 L1074.40,237.37 L1076.15,238.77 L1077.90,240.17 L1079.66,241.57 L1081.40,242.98 L1083.15,244.39 L1084.90,245.79 L1086.66,247.20 L1088.41,248.60 L1090.16,249.99 L1091.92,251.38 L1093.69,252.77 L1095.46,254.15 L1097.23,255.51 L1099.01,256.87 L1100.80,258.22 L1102.60,259.55 L1104.40,260.87 L1106.22,262.18 L1108.04,263.47 L1109.88,264.74 L1111.72,266.00 L1113.58,267.24 L1115.45,268.45 L1117.34,269.65 L1119.24,270.82 L1121.16,271.96 L1123.09,273.09 L1125.04,274.18 L1127.00,275.26 L1128.97,276.31 L1130.96,277.35 L1132.96,278.37 L1134.97,279.37 L1136.99,280.35 L1139.02,281.32 L1141.06,282.28 L1143.10,283.23 L1145.15,284.16 L1147.21,285.09 L1149.27,286.01 L1151.34,286.93 L1153.41,287.84 L1155.48,288.74 L1157.55,289.65 L1159.63,290.56 L1161.70,291.47 L1163.77,292.38 L1165.84,293.29 L1167.91,294.21 L1169.97,295.14 L1172.03,296.07 L1174.08,297.02 L1176.13,297.97 L1178.17,298.94 L1180.20,299.93 L1182.22,300.92 L1184.24,301.94 L1186.24,302.97 L1188.23,304.02 L1190.21,305.10 L1192.17,306.19 L1194.12,307.31 L1196.06,308.46 L1197.98,309.63 L1199.88,310.82 L1201.76,312.05 L1203.63,313.30 L1205.47,314.59 L1207.29,315.90 L1209.09,317.24 L1210.86,318.60 L1212.60,320.00 L1214.31,321.43 L1215.99,322.88 L1217.64,324.37 L1219.26,325.89 L1220.84,327.43 L1222.39,329.01 L1223.89,330.62 L1225.36,332.25 L1226.79,333.92 L1228.17,335.62 L1229.51,337.36 L1230.80,339.12 L1232.05,340.92 L1233.25,342.75 L1234.40,344.61 L1235.49,346.50 L1236.54,348.43 L1237.53,350.39 L1238.47,352.37 L1239.36,354.39 L1240.21,356.44 L1241.01,358.51 L1241.77,360.60 L1242.48,362.72 L1243.16,364.86 L1243.80,367.02 L1244.41,369.19 L1244.98,371.39 L1245.52,373.60 L1246.03,375.82 L1246.51,378.05 L1246.96,380.30 L1247.39,382.56 L1247.79,384.82 L1248.17,387.09 L1248.54,389.36 L1248.88,391.64 L1249.21,393.92 L1249.53,396.20 L1249.83,398.49 L1250.12,400.76 L1250.40,403.04 L1250.68,405.30 L1250.95,407.57 L1251.22,409.82 L1251.48,412.07 L1251.73,414.31 L1251.99,416.54 L1252.23,418.77 L1252.48,421.00 L1252.72,423.22 L1252.95,425.44 L1253.18,427.65 L1253.41,429.86 L1253.63,432.07 L1253.85,434.27 L1254.07,436.47 L1254.28,438.68 L1254.49,440.88 L1254.69,443.08 L1254.89,445.28 L1255.09,447.48 L1255.28,449.68 L1255.47,451.88 L1255.65,454.09 L1255.84,456.29 L1256.02,458.50 L1256.19,460.71 L1256.37,462.93 L1256.54,465.15 L1256.70,467.37 L1256.87,469.60 L1257.03,471.84 L1257.19,474.08 L1257.34,476.33 L1257.49,478.58 L1257.64,480.84 L1257.79,483.11 L1257.94,485.38 L1258.08,487.67 L1258.22,489.96 L1258.36,492.27 L1258.49,494.58" stroke="#FF0000" stroke-dasharray="7 8.5"/>
<path d="M880.57,136.50 L882.56,137.21 L884.56,137.90 L886.57,138.56 L888.60,139.20 L890.63,139.82 L892.67,140.43 L894.72,141.03 L896.78,141.61 L898.84,142.18 L900.90,142.74 L902.97,143.30 L905.04,143.86 L907.10,144.42 L909.17,144.98 L911.23,145.54 L913.29,146.11 L915.35,146.68 L917.40,147.27 L919.44,147.87 L921.48,148.49 L923.50,149.12 L925.52,149.77 L927.52,150.44 L929.51,151.14 L931.49,151.86 L933.45,152.62 L935.40,153.40 L937.32,154.21 L939.23,155.06 L941.12,155.95 L942.99,156.87 L944.85,157.82 L946.69,158.81 L948.51,159.82 L950.32,160.86 L952.11,161.93 L953.89,163.03 L955.66,164.14 L957.42,165.28 L959.17,166.44 L960.91,167.62 L962.64,168.81 L964.37,170.02 L966.08,171.25 L967.80,172.49 L969.51,173.73 L971.21,174.99 L972.91,176.25 L974.61,177.52 L976.31,178.80 L978.02,180.08 L979.72,181.35 L981.42,182.63 L983.13,183.91 L984.84,185.18 L986.55,186.45 L988.28,187.71 L990.00,188.96 L991.74,190.21 L993.48,191.45 L995.23,192.68 L996.98,193.90 L998.73,195.12 L1000.49,196.33 L1002.25,197.54 L1004.01,198.75 L1005.78,199.95 L1007.55,201.15 L1009.31,202.35 L1011.08,203.56 L1012.85,204.76 L1014.61,205.96 L1016.37,207.16 L1018.13,208.37 L1019.89,209.57 L1021.64,210.79 L1023.39,212.00 L1025.13,213.23 L1026.87,214.45 L1028.60,215.69 L1030.33,216.93 L1032.04,218.18 L1033.75,219.44 L1035.45,220.71 L1037.14,221.99 L1038.82,223.27 L1040.49,224.58 L1042.15,225.89 L1043.79,227.21 L1045.43,228.55 L1047.05,229.91 L1048.66,231.28 L1050.25,232.66 L1051.83,234.06 L1053.40,235.47 L1054.96,236.89 L1056.51,238.32 L1058.06,239.76 L1059.59,241.20 L1061.13,242.66 L1062.65,244.11 L1064.18,245.57 L1065.70,247.04 L1067.21,248.50 L1068.73,249.97 L1070.25,251.43 L1071.77,252.90 L1073.29,254.35 L1074.82,255.81 L1076.35,257.26 L1077.89,258.70 L1079.43,260.13 L1080.99,261.56 L1082.55,262.97 L1084.12,264.37 L1085.70,265.76 L1087.30,267.14 L1088.91,268.50 L1090.53,269.84 L1092.17,271.17 L1093.82,272.48 L1095.49,273.77 L1097.18,275.03 L1098.89,276.28 L1100.62,277.50 L1102.37,278.70 L1104.13,279.89 L1105.91,281.06 L1107.70,282.20 L1109.51,283.34 L1111.33,284.45 L1113.16,285.56 L1115.01,286.64 L1116.86,287.72 L1118.73,288.78 L1120.61,289.83 L1122.49,290.87 L1124.39,291.90 L1126.29,292.93 L1128.19,293.94 L1130.11,294.95 L1132.02,295.95 L1133.95,296.94 L1135.87,297.94 L1137.80,298.92 L1139.73,299.91 L1141.66,300.89 L1143.58,301.88 L1145.51,302.86 L1147.44,303.84 L1149.37,304.83 L1151.29,305.81 L1153.21,306.80 L1155.12,307.80 L1157.03,308.80 L1158.93,309.80 L1160.82,310.82 L1162.71,311.84 L1164.59,312.87 L1166.45,313.90 L1168.31,314.95 L1170.16,316.01 L1171.99,317.09 L1173.82,318.17 L1175.62,319.27 L1177.42,320.38 L1179.20,321.51 L1180.96,322.66 L1182.71,323.82 L1184.44,325.00 L1186.15,326.20 L1187.84,327.42 L1189.51,328.66 L1191.17,329.92 L1192.80,331.20 L1194.40,332.51 L1195.99,333.84 L1197.55,335.20 L1199.09,336.58 L1200.60,337.99 L1202.09,339.43 L1203.54,340.89 L1204.97,342.39 L1206.38,343.91 L1207.75,345.46 L1209.10,347.04 L1210.42,348.65 L1211.71,350.28 L1212.97,351.94 L1214.21,353.62 L1215.42,355.33 L1216.59,357.06 L1217.75,358.81 L1218.87,360.58 L1219.97,362.38 L1221.03,364.20 L1222.07,366.03 L1223.09,367.89 L1224.07,369.76 L1225.03,371.65 L1225.96,373.56 L1226.86,375.48 L1227.73,377.42 L1228.58,379.38 L1229.40,381.35 L1230.19,383.33 L1230.95,385.33 L1231.68,387.33 L1232.39,389.35 L1233.07,391.38 L1233.72,393.42 L1234.34,395.47 L1234.94,397.52 L1235.51,399.59 L1236.05,401.66 L1236.56,403.74 L1237.05,405.82 L1237.51,407.91 L1237.94,410.00 L1238.35,412.10 L1238.74,414.20 L1239.11,416.31 L1239.46,418.42 L1239.79,420.54 L1240.10,422.65 L1240.40,424.77 L1240.68,426.90 L1240.94,429.02 L1241.19,431.15 L1241.44,433.28 L1241.67,435.41 L1241.89,437.54 L1242.10,439.68 L1242.31,441.81 L1242.51,443.94 L1242.70,446.08 L1242.89,448.21 L1243.08,450.34 L1243.27,452.47 L1243.46,454.60 L1243.65,456.72 L1243.84,458.85 L1244.04,460.97 L1244.24,463.09 L1244.45,465.20 L1244.66,467.32 L1244.88,469.43 L1245.11,471.53 L1245.35,473.63 L1245.61,475.73 L1245.87,477.82 L1246.16,479.90 L1246.45,481.98 L1246.76,484.05 L1247.09,486.12 L1247.44,488.18 L1247.81,490.23 L1248.20,492.28 L1248.62,494.32" stroke="#0000FF"/>
<path d="M880.73,135.68 L882.72,136.43 L884.72,137.16 L886.73,137.87 L888.75,138.56 L890.78,139.23 L892.81,139.88 L894.85,140.52 L896.90,141.15 L898.95,141.77 L901.01,142.38 L903.07,142.98 L905.13,143.58 L907.19,144.17 L909.26,144.77 L911.32,145.37 L913.38,145.96 L915.44,146.57 L917.49,147.18 L919.54,147.80 L921.58,148.43 L923.62,149.07 L925.65,149.72 L927.67,150.39 L929.69,151.08 L931.69,151.79 L933.68,152.52 L935.66,153.27 L937.62,154.05 L939.57,154.86 L941.51,155.69 L943.43,156.56 L945.33,157.46 L947.22,158.39 L949.09,159.36 L950.94,160.36 L952.77,161.40 L954.59,162.46 L956.39,163.55 L958.19,164.67 L959.96,165.82 L961.73,166.99 L963.48,168.18 L965.23,169.39 L966.97,170.63 L968.69,171.87 L970.42,173.14 L972.13,174.41 L973.84,175.70 L975.55,177.00 L977.25,178.30 L978.95,179.62 L980.65,180.93 L982.35,182.26 L984.05,183.58 L985.75,184.90 L987.45,186.22 L989.16,187.54 L990.87,188.85 L992.58,190.15 L994.31,191.45 L996.03,192.73 L997.77,194.01 L999.52,195.27 L1001.27,196.52 L1003.03,197.76 L1004.79,198.99 L1006.56,200.21 L1008.33,201.43 L1010.11,202.64 L1011.88,203.85 L1013.66,205.06 L1015.43,206.27 L1017.21,207.48 L1018.98,208.68 L1020.75,209.90 L1022.51,211.12 L1024.27,212.34 L1026.02,213.57 L1027.77,214.81 L1029.50,216.06 L1031.23,217.32 L1032.95,218.58 L1034.67,219.85 L1036.38,221.13 L1038.09,222.42 L1039.78,223.71 L1041.48,225.01 L1043.17,226.32 L1044.85,227.63 L1046.53,228.94 L1048.21,230.26 L1049.88,231.58 L1051.55,232.90 L1053.22,234.23 L1054.89,235.56 L1056.55,236.89 L1058.21,238.22 L1059.87,239.56 L1061.53,240.89 L1063.19,242.23 L1064.85,243.56 L1066.51,244.89 L1068.18,246.22 L1069.84,247.55 L1071.50,248.88 L1073.16,250.21 L1074.83,251.53 L1076.50,252.85 L1078.17,254.16 L1079.85,255.47 L1081.53,256.78 L1083.21,258.08 L1084.89,259.37 L1086.59,260.66 L1088.28,261.94 L1089.98,263.21 L1091.69,264.48 L1093.40,265.74 L1095.12,266.99 L1096.85,268.23 L1098.58,269.46 L1100.32,270.68 L1102.07,271.89 L1103.82,273.09 L1105.59,274.28 L1107.36,275.46 L1109.14,276.63 L1110.94,277.78 L1112.74,278.92 L1114.55,280.05 L1116.37,281.16 L1118.21,282.26 L1120.05,283.34 L1121.91,284.41 L1123.78,285.47 L1125.66,286.50 L1127.55,287.52 L1129.46,288.53 L1131.38,289.51 L1133.31,290.48 L1135.26,291.43 L1137.22,292.37 L1139.19,293.29 L1141.17,294.19 L1143.17,295.09 L1145.16,295.97 L1147.17,296.85 L1149.17,297.72 L1151.19,298.59 L1153.20,299.45 L1155.21,300.31 L1157.22,301.18 L1159.23,302.04 L1161.23,302.91 L1163.23,303.79 L1165.22,304.67 L1167.20,305.56 L1169.18,306.46 L1171.14,307.38 L1173.09,308.31 L1175.02,309.26 L1176.94,310.22 L1178.85,311.21 L1180.73,312.21 L1182.60,313.24 L1184.44,314.30 L1186.26,315.38 L1188.06,316.48 L1189.83,317.62 L1191.57,318.79 L1193.29,320.00 L1194.98,321.24 L1196.64,322.51 L1198.26,323.83 L1199.85,325.18 L1201.41,326.57 L1202.93,328.00 L1204.42,329.46 L1205.88,330.96 L1207.30,332.49 L1208.69,334.06 L1210.04,335.65 L1211.35,337.28 L1212.63,338.94 L1213.87,340.63 L1215.08,342.35 L1216.25,344.09 L1217.38,345.86 L1218.48,347.66 L1219.54,349.48 L1220.55,351.33 L1221.54,353.20 L1222.48,355.09 L1223.38,357.00 L1224.24,358.93 L1225.07,360.88 L1225.85,362.86 L1226.59,364.84 L1227.30,366.85 L1227.96,368.87 L1228.59,370.91 L1229.19,372.96 L1229.75,375.02 L1230.27,377.10 L1230.77,379.19 L1231.24,381.29 L1231.68,383.40 L1232.09,385.52 L1232.48,387.65 L1232.85,389.78 L1233.19,391.92 L1233.51,394.07 L1233.82,396.23 L1234.11,398.39 L1234.38,400.55 L1234.63,402.72 L1234.88,404.88 L1235.11,407.05 L1235.33,409.22 L1235.54,411.39 L1235.75,413.56 L1235.95,415.72 L1236.14,417.89 L1236.34,420.05 L1236.53,422.20 L1236.72,424.35 L1236.92,426.50 L1237.11,428.63 L1237.31,430.76 L1237.51,432.89 L1237.71,435.01 L1237.91,437.13 L1238.11,439.24 L1238.32,441.35 L1238.52,443.46 L1238.72,445.57 L1238.92,447.67 L1239.12,449.77 L1239.31,451.87 L1239.51,453.97 L1239.70,456.08 L1239.89,458.18 L1240.07,460.28 L1240.25,462.39 L1240.43,464.49 L1240.61,466.60 L1240.77,468.72 L1240.94,470.83 L1241.09,472.95 L1241.25,475.08 L1241.39,477.21 L1241.53,479.35 L1241.66,481.49 L1241.78,483.64 L1241.90,485.80 L1242.01,487.96 L1242.11,490.14 L1242.20,492.32 L1242.28,494.51" stroke="#0000FF" stroke-dasharray="7 8.5"/>
<path d="M885.63,171.77 L887.61,172.11 L889.57,172.46 L891.53,172.84 L893.48,173.23 L895.42,173.64 L897.35,174.07 L899.28,174.52 L901.19,174.99 L903.10,175.48 L904.99,175.99 L906.88,176.51 L908.76,177.05 L910.63,177.61 L912.49,178.19 L914.35,178.78 L916.20,179.39 L918.04,180.01 L919.87,180.65 L921.70,181.31 L923.52,181.98 L925.33,182.67 L927.14,183.37 L928.94,184.09 L930.73,184.82 L932.52,185.56 L934.30,186.32 L936.07,187.09 L937.84,187.88 L939.61,188.67 L941.36,189.48 L943.12,190.31 L944.87,191.14 L946.61,191.99 L948.35,192.85 L950.08,193.72 L951.81,194.60 L953.53,195.49 L955.25,196.39 L956.97,197.30 L958.68,198.23 L960.39,199.16 L962.09,200.10 L963.80,201.05 L965.49,202.01 L967.19,202.98 L968.88,203.95 L970.57,204.94 L972.26,205.93 L973.94,206.93 L975.62,207.93 L977.30,208.95 L978.98,209.97 L980.65,211.00 L982.32,212.03 L983.99,213.07 L985.65,214.12 L987.31,215.18 L988.97,216.24 L990.62,217.31 L992.27,218.38 L993.91,219.46 L995.56,220.55 L997.19,221.64 L998.83,222.74 L1000.46,223.84 L1002.08,224.95 L1003.70,226.07 L1005.32,227.19 L1006.93,228.32 L1008.54,229.45 L1010.14,230.59 L1011.74,231.73 L1013.33,232.88 L1014.92,234.03 L1016.50,235.19 L1018.08,236.35 L1019.65,237.52 L1021.21,238.69 L1022.77,239.86 L1024.33,241.04 L1025.88,242.22 L1027.42,243.41 L1028.96,244.60 L1030.49,245.80 L1032.01,247.00 L1033.53,248.20 L1035.04,249.41 L1036.54,250.62 L1038.05,251.83 L1039.54,253.04 L1041.04,254.25 L1042.53,255.47 L1044.02,256.68 L1045.50,257.90 L1046.99,259.11 L1048.48,260.32 L1049.96,261.53 L1051.45,262.74 L1052.94,263.95 L1054.43,265.15 L1055.92,266.35 L1057.42,267.54 L1058.92,268.73 L1060.43,269.91 L1061.94,271.09 L1063.46,272.26 L1064.98,273.42 L1066.51,274.58 L1068.05,275.73 L1069.60,276.87 L1071.15,278.00 L1072.72,279.12 L1074.29,280.23 L1075.88,281.34 L1077.48,282.43 L1079.09,283.51 L1080.71,284.57 L1082.34,285.63 L1083.99,286.67 L1085.66,287.70 L1087.33,288.71 L1089.02,289.72 L1090.72,290.71 L1092.43,291.70 L1094.16,292.67 L1095.89,293.64 L1097.63,294.60 L1099.38,295.54 L1101.13,296.49 L1102.90,297.42 L1104.67,298.35 L1106.44,299.27 L1108.23,300.19 L1110.01,301.10 L1111.80,302.01 L1113.59,302.92 L1115.39,303.82 L1117.19,304.72 L1118.99,305.62 L1120.79,306.52 L1122.59,307.42 L1124.39,308.32 L1126.18,309.22 L1127.98,310.12 L1129.77,311.02 L1131.56,311.93 L1133.35,312.84 L1135.13,313.75 L1136.91,314.66 L1138.68,315.59 L1140.44,316.51 L1142.20,317.45 L1143.95,318.39 L1145.69,319.33 L1147.42,320.29 L1149.14,321.25 L1150.85,322.22 L1152.55,323.20 L1154.24,324.19 L1155.92,325.20 L1157.58,326.21 L1159.23,327.24 L1160.87,328.27 L1162.49,329.33 L1164.10,330.39 L1165.69,331.47 L1167.26,332.56 L1168.82,333.67 L1170.35,334.80 L1171.87,335.94 L1173.37,337.10 L1174.85,338.27 L1176.31,339.47 L1177.75,340.68 L1179.16,341.92 L1180.55,343.17 L1181.92,344.44 L1183.27,345.74 L1184.59,347.06 L1185.88,348.40 L1187.15,349.76 L1188.40,351.15 L1189.61,352.56 L1190.80,353.99 L1191.96,355.45 L1193.09,356.94 L1194.19,358.45 L1195.26,359.99 L1196.30,361.56 L1197.32,363.15 L1198.30,364.77 L1199.25,366.41 L1200.17,368.07 L1201.07,369.76 L1201.94,371.47 L1202.78,373.20 L1203.60,374.95 L1204.39,376.72 L1205.15,378.50 L1205.89,380.31 L1206.60,382.13 L1207.29,383.96 L1207.96,385.81 L1208.60,387.68 L1209.22,389.56 L1209.82,391.45 L1210.40,393.35 L1210.95,395.26 L1211.48,397.19 L1212.00,399.12 L1212.49,401.06 L1212.96,403.01 L1213.42,404.96 L1213.85,406.92 L1214.27,408.89 L1214.67,410.85 L1215.05,412.83 L1215.42,414.80 L1215.76,416.78 L1216.10,418.75 L1216.41,420.73 L1216.72,422.71 L1217.00,424.68 L1217.28,426.65 L1217.54,428.62 L1217.79,430.59 L1218.03,432.56 L1218.25,434.53 L1218.47,436.49 L1218.68,438.45 L1218.88,440.41 L1219.07,442.37 L1219.25,444.33 L1219.43,446.28 L1219.61,448.23 L1219.77,450.18 L1219.94,452.13 L1220.10,454.07 L1220.26,456.01 L1220.42,457.95 L1220.57,459.89 L1220.73,461.82 L1220.89,463.75 L1221.05,465.68 L1221.21,467.60 L1221.37,469.53 L1221.54,471.45 L1221.71,473.36 L1221.89,475.28 L1222.07,477.19 L1222.26,479.09 L1222.46,480.99 L1222.67,482.89 L1222.88,484.79 L1223.11,486.68 L1223.34,488.57 L1223.59,490.46 L1223.84,492.34 L1224.12,494.22" stroke="#00FF00" stroke-dasharray="7 8.5"/>
<path d="M886.08,188.55 L887.82,188.97 L889.55,189.40 L891.29,189.84 L893.02,190.29 L894.75,190.76 L896.48,191.24 L898.22,191.73 L899.95,192.23 L901.67,192.75 L903.40,193.27 L905.13,193.81 L906.85,194.36 L908.58,194.92 L910.30,195.49 L912.02,196.07 L913.73,196.67 L915.45,197.27 L917.16,197.89 L918.87,198.52 L920.58,199.15 L922.29,199.80 L923.99,200.46 L925.70,201.13 L927.39,201.81 L929.09,202.50 L930.78,203.20 L932.47,203.91 L934.16,204.63 L935.84,205.36 L937.52,206.10 L939.20,206.85 L940.87,207.61 L942.54,208.38 L944.21,209.16 L945.87,209.95 L947.52,210.75 L949.18,211.55 L950.83,212.37 L952.47,213.19 L954.11,214.03 L955.75,214.87 L957.38,215.72 L959.00,216.59 L960.63,217.45 L962.24,218.33 L963.85,219.22 L965.46,220.11 L967.06,221.02 L968.66,221.93 L970.25,222.85 L971.83,223.78 L973.41,224.71 L974.98,225.66 L976.55,226.61 L978.11,227.57 L979.66,228.53 L981.21,229.51 L982.75,230.49 L984.29,231.48 L985.82,232.47 L987.34,233.47 L988.86,234.48 L990.37,235.50 L991.87,236.53 L993.36,237.56 L994.85,238.59 L996.34,239.64 L997.82,240.68 L999.29,241.74 L1000.75,242.80 L1002.22,243.87 L1003.67,244.94 L1005.12,246.01 L1006.57,247.09 L1008.02,248.18 L1009.46,249.27 L1010.89,250.36 L1012.32,251.46 L1013.75,252.56 L1015.18,253.66 L1016.60,254.77 L1018.02,255.88 L1019.44,256.99 L1020.85,258.11 L1022.27,259.23 L1023.68,260.35 L1025.09,261.47 L1026.50,262.60 L1027.90,263.72 L1029.31,264.85 L1030.71,265.98 L1032.12,267.11 L1033.53,268.24 L1034.93,269.37 L1036.34,270.50 L1037.74,271.63 L1039.15,272.77 L1040.55,273.90 L1041.96,275.03 L1043.37,276.16 L1044.78,277.29 L1046.20,278.42 L1047.61,279.55 L1049.03,280.67 L1050.45,281.80 L1051.87,282.92 L1053.29,284.04 L1054.72,285.16 L1056.15,286.27 L1057.59,287.38 L1059.02,288.49 L1060.47,289.60 L1061.91,290.70 L1063.36,291.80 L1064.82,292.90 L1066.28,293.99 L1067.75,295.08 L1069.22,296.16 L1070.69,297.24 L1072.17,298.32 L1073.66,299.39 L1075.16,300.45 L1076.66,301.51 L1078.16,302.56 L1079.68,303.61 L1081.20,304.65 L1082.73,305.69 L1084.26,306.72 L1085.80,307.74 L1087.34,308.76 L1088.89,309.78 L1090.45,310.79 L1092.00,311.80 L1093.56,312.81 L1095.13,313.81 L1096.69,314.82 L1098.26,315.81 L1099.83,316.81 L1101.41,317.81 L1102.98,318.80 L1104.55,319.80 L1106.13,320.79 L1107.70,321.79 L1109.27,322.78 L1110.84,323.78 L1112.41,324.78 L1113.98,325.77 L1115.54,326.77 L1117.11,327.78 L1118.66,328.78 L1120.22,329.79 L1121.77,330.80 L1123.32,331.81 L1124.86,332.83 L1126.39,333.85 L1127.92,334.88 L1129.44,335.91 L1130.96,336.95 L1132.47,337.99 L1133.97,339.04 L1135.46,340.10 L1136.95,341.16 L1138.43,342.23 L1139.89,343.31 L1141.35,344.39 L1142.79,345.48 L1144.23,346.59 L1145.66,347.70 L1147.07,348.81 L1148.47,349.94 L1149.86,351.08 L1151.23,352.23 L1152.60,353.39 L1153.95,354.56 L1155.28,355.74 L1156.60,356.93 L1157.91,358.14 L1159.20,359.36 L1160.47,360.59 L1161.73,361.83 L1162.97,363.09 L1164.20,364.36 L1165.40,365.64 L1166.59,366.94 L1167.76,368.25 L1168.92,369.58 L1170.05,370.93 L1171.16,372.29 L1172.25,373.66 L1173.33,375.05 L1174.38,376.46 L1175.41,377.89 L1176.42,379.34 L1177.40,380.80 L1178.36,382.28 L1179.30,383.78 L1180.22,385.29 L1181.12,386.83 L1181.99,388.38 L1182.84,389.95 L1183.67,391.53 L1184.49,393.13 L1185.27,394.75 L1186.04,396.38 L1186.79,398.02 L1187.52,399.68 L1188.24,401.35 L1188.93,403.03 L1189.60,404.72 L1190.26,406.43 L1190.90,408.15 L1191.52,409.88 L1192.13,411.61 L1192.71,413.36 L1193.28,415.12 L1193.84,416.89 L1194.38,418.66 L1194.91,420.44 L1195.42,422.23 L1195.91,424.03 L1196.39,425.83 L1196.86,427.64 L1197.32,429.45 L1197.76,431.27 L1198.19,433.09 L1198.60,434.92 L1199.01,436.75 L1199.40,438.58 L1199.78,440.42 L1200.15,442.25 L1200.51,444.09 L1200.86,445.93 L1201.20,447.77 L1201.53,449.61 L1201.85,451.45 L1202.17,453.29 L1202.47,455.13 L1202.77,456.96 L1203.05,458.80 L1203.33,460.63 L1203.61,462.45 L1203.87,464.28 L1204.14,466.09 L1204.39,467.91 L1204.64,469.72 L1204.88,471.52 L1205.12,473.31 L1205.35,475.10 L1205.58,476.88 L1205.81,478.66 L1206.03,480.42 L1206.25,482.18 L1206.46,483.93 L1206.68,485.67 L1206.89,487.39 L1207.10,489.11 L1207.31,490.82 L1207.51,492.51 L1207.72,494.19" stroke="#00FF00"/>
<path d="M889.37,210.38 L891.01,210.83 L892.65,211.28 L894.29,211.75 L895.93,212.22 L897.57,212.71 L899.21,213.20 L900.85,213.71 L902.49,214.22 L904.13,214.74 L905.77,215.27 L907.41,215.81 L909.05,216.36 L910.69,216.92 L912.32,217.49 L913.96,218.07 L915.59,218.65 L917.22,219.25 L918.85,219.85 L920.47,220.47 L922.10,221.09 L923.72,221.72 L925.34,222.36 L926.96,223.01 L928.58,223.66 L930.19,224.33 L931.80,225.00 L933.40,225.69 L935.01,226.38 L936.61,227.08 L938.20,227.78 L939.80,228.50 L941.39,229.22 L942.97,229.96 L944.55,230.70 L946.13,231.44 L947.70,232.20 L949.27,232.97 L950.83,233.74 L952.39,234.52 L953.95,235.31 L955.50,236.10 L957.04,236.91 L958.58,237.72 L960.11,238.54 L961.64,239.36 L963.16,240.20 L964.68,241.04 L966.19,241.89 L967.69,242.75 L969.19,243.61 L970.68,244.48 L972.17,245.36 L973.65,246.24 L975.13,247.13 L976.60,248.03 L978.06,248.93 L979.53,249.84 L980.98,250.76 L982.44,251.68 L983.89,252.60 L985.33,253.54 L986.77,254.47 L988.21,255.41 L989.64,256.36 L991.07,257.31 L992.50,258.26 L993.92,259.22 L995.34,260.19 L996.76,261.16 L998.18,262.13 L999.59,263.10 L1001.00,264.08 L1002.40,265.06 L1003.81,266.05 L1005.21,267.03 L1006.61,268.02 L1008.01,269.02 L1009.41,270.01 L1010.81,271.01 L1012.20,272.01 L1013.60,273.01 L1014.99,274.02 L1016.38,275.02 L1017.77,276.03 L1019.16,277.04 L1020.55,278.05 L1021.94,279.06 L1023.33,280.07 L1024.72,281.08 L1026.11,282.09 L1027.50,283.10 L1028.89,284.11 L1030.29,285.13 L1031.68,286.14 L1033.07,287.15 L1034.46,288.16 L1035.86,289.17 L1037.26,290.18 L1038.66,291.19 L1040.06,292.20 L1041.46,293.20 L1042.86,294.21 L1044.27,295.21 L1045.67,296.21 L1047.09,297.21 L1048.50,298.20 L1049.91,299.20 L1051.33,300.19 L1052.75,301.18 L1054.18,302.16 L1055.61,303.15 L1057.04,304.12 L1058.47,305.10 L1059.91,306.07 L1061.35,307.04 L1062.80,308.01 L1064.25,308.97 L1065.71,309.92 L1067.17,310.88 L1068.63,311.82 L1070.10,312.77 L1071.57,313.70 L1073.05,314.64 L1074.53,315.56 L1076.02,316.49 L1077.52,317.40 L1079.02,318.31 L1080.52,319.22 L1082.03,320.13 L1083.54,321.02 L1085.05,321.92 L1086.57,322.81 L1088.09,323.70 L1089.61,324.59 L1091.13,325.48 L1092.66,326.36 L1094.18,327.25 L1095.71,328.13 L1097.23,329.01 L1098.76,329.89 L1100.28,330.77 L1101.81,331.65 L1103.33,332.53 L1104.85,333.42 L1106.37,334.30 L1107.89,335.19 L1109.40,336.08 L1110.91,336.97 L1112.42,337.86 L1113.92,338.76 L1115.42,339.66 L1116.92,340.56 L1118.40,341.47 L1119.89,342.38 L1121.37,343.30 L1122.84,344.22 L1124.30,345.15 L1125.76,346.08 L1127.21,347.02 L1128.65,347.97 L1130.09,348.92 L1131.51,349.89 L1132.93,350.85 L1134.34,351.83 L1135.74,352.82 L1137.13,353.81 L1138.51,354.81 L1139.87,355.82 L1141.23,356.84 L1142.57,357.88 L1143.91,358.92 L1145.23,359.97 L1146.54,361.03 L1147.83,362.11 L1149.12,363.20 L1150.38,364.29 L1151.64,365.41 L1152.88,366.53 L1154.10,367.67 L1155.31,368.82 L1156.51,369.98 L1157.68,371.16 L1158.85,372.35 L1159.99,373.56 L1161.12,374.79 L1162.23,376.02 L1163.32,377.28 L1164.40,378.55 L1165.45,379.84 L1166.49,381.14 L1167.51,382.46 L1168.50,383.80 L1169.48,385.16 L1170.44,386.53 L1171.37,387.93 L1172.29,389.34 L1173.18,390.77 L1174.06,392.22 L1174.91,393.69 L1175.74,395.18 L1176.55,396.68 L1177.35,398.20 L1178.12,399.73 L1178.87,401.28 L1179.61,402.84 L1180.33,404.42 L1181.03,406.01 L1181.71,407.61 L1182.37,409.22 L1183.02,410.85 L1183.65,412.49 L1184.26,414.14 L1184.86,415.80 L1185.44,417.47 L1186.00,419.14 L1186.55,420.83 L1187.08,422.53 L1187.60,424.23 L1188.11,425.94 L1188.60,427.65 L1189.08,429.38 L1189.54,431.10 L1189.99,432.84 L1190.43,434.57 L1190.85,436.31 L1191.26,438.06 L1191.66,439.81 L1192.05,441.55 L1192.43,443.31 L1192.79,445.06 L1193.15,446.81 L1193.49,448.56 L1193.82,450.32 L1194.15,452.07 L1194.46,453.82 L1194.76,455.57 L1195.06,457.31 L1195.35,459.06 L1195.62,460.79 L1195.89,462.53 L1196.16,464.26 L1196.41,465.99 L1196.66,467.71 L1196.90,469.42 L1197.13,471.13 L1197.36,472.82 L1197.58,474.52 L1197.79,476.20 L1198.00,477.87 L1198.21,479.54 L1198.41,481.19 L1198.60,482.84 L1198.80,484.47 L1198.98,486.09 L1199.17,487.70 L1199.35,489.30 L1199.52,490.89 L1199.70,492.46 L1199.87,494.01" stroke="#FF8000" stroke-dasharray="7 8.5"/>
<path d="M888.78,235.67 L889.70,235.98 L890.61,236.30 L891.52,236.62 L892.43,236.94 L893.34,237.26 L894.24,237.59 L895.15,237.92 L896.05,238.26 L896.95,238.59 L897.85,238.93 L898.75,239.27 L899.64,239.62 L900.54,239.97 L901.43,240.32 L902.32,240.67 L903.21,241.03 L904.10,241.39 L904.98,241.75 L905.87,242.11 L906.75,242.48 L907.63,242.85 L908.51,243.23 L909.39,243.60 L910.26,243.98 L911.14,244.36 L912.01,244.74 L912.88,245.13 L913.75,245.52 L914.62,245.91 L915.49,246.30 L916.36,246.70 L917.22,247.10 L918.08,247.50 L918.94,247.90 L919.80,248.31 L920.66,248.72 L921.52,249.13 L922.37,249.55 L923.23,249.96 L924.08,250.38 L924.93,250.80 L925.78,251.23 L926.63,251.65 L927.48,252.08 L928.32,252.51 L929.17,252.95 L930.01,253.38 L930.85,253.82 L931.69,254.26 L932.53,254.70 L933.37,255.15 L934.20,255.59 L935.04,256.04 L935.87,256.49 L936.70,256.95 L937.53,257.40 L938.36,257.86 L939.19,258.32 L940.02,258.78 L940.84,259.25 L941.67,259.71 L942.49,260.18 L943.31,260.65 L944.13,261.13 L944.95,261.60 L945.77,262.08 L946.59,262.56 L947.40,263.04 L948.22,263.52 L949.03,264.00 L949.84,264.49 L950.65,264.98 L951.46,265.47 L952.27,265.96 L953.08,266.46 L953.89,266.96 L954.69,267.45 L955.50,267.95 L956.30,268.46 L957.10,268.96 L957.90,269.47 L958.70,269.97 L959.50,270.48 L960.30,270.99 L961.09,271.51 L961.89,272.02 L962.68,272.54 L963.48,273.06 L964.27,273.58 L965.06,274.10 L965.85,274.62 L966.64,275.14 L967.43,275.67 L968.21,276.20 L969.00,276.73 L969.78,277.26 L970.57,277.79 L971.35,278.33 L972.13,278.86 L972.92,279.40 L973.70,279.94 L974.47,280.48 L975.25,281.02 L976.03,281.57 L976.81,282.11 L977.58,282.66 L978.36,283.21 L979.13,283.75 L979.91,284.31 L980.68,284.86 L981.45,285.41 L982.22,285.97 L982.99,286.52 L983.76,287.08 L984.53,287.64 L985.29,288.20 L986.06,288.76 L986.82,289.32 L987.59,289.89 L988.35,290.45 L989.12,291.02 L989.88,291.59 L990.64,292.15 L991.40,292.72 L992.16,293.30 L992.92,293.87 L993.68,294.44 L994.44,295.02 L995.19,295.59 L995.95,296.17 L996.71,296.75 L997.46,297.33 L998.22,297.91 L998.97,298.49 L999.72,299.07 L1000.48,299.65 L1001.23,300.24 L1001.98,300.82 L1002.73,301.41 L1003.48,301.99 L1004.23,302.58 L1004.98,303.17 L1005.72,303.76 L1006.47,304.35 L1007.22,304.94 L1007.96,305.53 L1008.71,306.13 L1009.46,306.72 L1010.20,307.32 L1010.94,307.91 L1011.69,308.51 L1012.43,309.11 L1013.17,309.70 L1013.91,310.30 L1014.66,310.90 L1015.40,311.50 L1016.14,312.10 L1016.88,312.70 L1017.62,313.31 L1018.36,313.91 L1019.09,314.51 L1019.83,315.12 L1020.57,315.72 L1021.31,316.33 L1022.04,316.93 L1022.78,317.54 L1023.52,318.15 L1024.25,318.75 L1024.99,319.36 L1025.72,319.97 L1026.46,320.58 L1027.19,321.19 L1027.92,321.80 L1028.66,322.41 L1029.39,323.02 L1030.12,323.63 L1030.85,324.24 L1031.59,324.85 L1032.32,325.47 L1033.05,326.08 L1033.78,326.69 L1034.51,327.30 L1035.24,327.92 L1035.97,328.53 L1036.70,329.15 L1037.43,329.76 L1038.16,330.38 L1038.89,330.99 L1039.62,331.61 L1040.35,332.22 L1041.07,332.84 L1041.80,333.45 L1042.53,334.07 L1043.26,334.68 L1043.99,335.30 L1044.71,335.92 L1045.44,336.53 L1046.17,337.15 L1046.90,337.77 L1047.62,338.38 L1048.35,339.00 L1049.08,339.62 L1049.80,340.23 L1050.53,340.85 L1051.25,341.47 L1051.98,342.08 L1052.71,342.70 L1053.43,343.32 L1054.16,343.93 L1054.88,344.55 L1055.61,345.16 L1056.34,345.78 L1057.06,346.40 L1057.79,347.01 L1058.51,347.63 L1059.24,348.24 L1059.96,348.86 L1060.69,349.47 L1061.42,350.09 L1062.14,350.70 L1062.87,351.32 L1063.59,351.93 L1064.32,352.55 L1065.04,353.16 L1065.77,353.77 L1066.50,354.39 L1067.22,355.00 L1067.95,355.61 L1068.67,356.22 L1069.40,356.83 L1070.13,357.44 L1070.85,358.05 L1071.58,358.66 L1072.31,359.27 L1073.03,359.88 L1073.76,360.49 L1074.49,361.10 L1075.21,361.71 L1075.94,362.32 L1076.67,362.92 L1077.40,363.53 L1078.12,364.13 L1078.85,364.74 L1079.58,365.34 L1080.31,365.95 L1081.04,366.55 L1081.77,367.15 L1082.50,367.75 L1083.23,368.36 L1083.96,368.96 L1084.69,369.56 L1085.42,370.16 L1086.15,370.75 L1086.88,371.35 L1087.61,371.95 L1088.34,372.54 L1089.07,373.14 L1089.80,373.73 L1090.54,374.33 L1100.60,387.10 L1109.90,400.60 L1114.10,410.70 L1119.10,425.90 L1122.70,436.20 L1125.40,444.30 L1128.10,453.70 L1130.80,463.10 L1132.80,473.90 L1134.20,483.30 L1135.90,494.50" stroke="#FF8000"/>
<path d="M881.06,208.32 L881.04,210.25 L881.10,212.14 L881.22,213.99 L881.42,215.80 L881.68,217.57 L882.00,219.30 L882.39,220.99 L882.84,222.64 L883.36,224.25 L883.93,225.82 L884.56,227.34 L885.24,228.83 L885.98,230.26 L886.77,231.66 L887.62,233.01 L888.51,234.32 L889.45,235.58 L890.44,236.79 L891.48,237.96 L892.55,239.09 L893.67,240.16 L894.83,241.19 L896.03,242.17 L897.27,243.11 L898.54,244.00 L899.85,244.86 L901.18,245.68 L902.55,246.46 L903.94,247.21 L905.36,247.94 L906.80,248.64 L908.26,249.31 L909.75,249.96 L911.25,250.59 L912.76,251.20 L914.29,251.80 L915.83,252.39 L917.39,252.97 L918.95,253.54 L920.51,254.11 L922.08,254.68 L923.65,255.24 L925.22,255.81 L926.79,256.39 L928.36,256.97 L929.92,257.56 L931.47,258.17 L933.02,258.79 L934.56,259.42 L936.09,260.07 L937.61,260.72 L939.12,261.39 L940.63,262.07 L942.14,262.77 L943.63,263.47 L945.12,264.18 L946.60,264.91 L948.08,265.65 L949.55,266.40 L951.01,267.15 L952.47,267.92 L953.92,268.70 L955.36,269.49 L956.80,270.28 L958.24,271.09 L959.67,271.91 L961.09,272.73 L962.51,273.56 L963.92,274.40 L965.33,275.25 L966.74,276.11 L968.14,276.97 L969.53,277.84 L970.92,278.72 L972.31,279.61 L973.69,280.50 L975.07,281.40 L976.44,282.30 L977.81,283.21 L979.18,284.13 L980.54,285.05 L981.90,285.98 L983.25,286.91 L984.61,287.85 L985.96,288.79 L987.30,289.74 L988.65,290.69 L989.99,291.64 L991.33,292.60 L992.66,293.56 L994.00,294.53 L995.33,295.49 L996.66,296.47 L997.99,297.44 L999.31,298.41 L1000.64,299.39 L1001.96,300.37 L1003.28,301.35 L1004.60,302.34 L1005.92,303.32 L1007.24,304.31 L1008.55,305.29 L1009.87,306.28 L1011.18,307.27 L1012.50,308.25 L1013.81,309.24 L1015.13,310.23 L1016.44,311.21 L1017.75,312.20 L1019.07,313.18 L1020.38,314.17 L1021.69,315.15 L1023.01,316.13 L1024.32,317.11 L1025.64,318.09 L1026.95,319.07 L1028.27,320.04 L1029.58,321.02 L1030.90,321.99 L1032.22,322.96 L1033.53,323.94 L1034.85,324.91 L1036.17,325.88 L1037.49,326.84 L1038.81,327.81 L1040.13,328.78 L1041.46,329.74 L1042.78,330.71 L1044.10,331.67 L1045.43,332.63 L1046.76,333.59 L1048.08,334.55 L1049.41,335.51 L1050.74,336.47 L1052.07,337.43 L1053.41,338.38 L1054.74,339.34 L1056.08,340.29 L1057.41,341.24 L1058.75,342.19 L1060.09,343.15 L1061.43,344.10 L1062.78,345.04 L1064.12,345.99 L1065.47,346.94 L1066.82,347.88 L1068.17,348.83 L1069.52,349.77 L1070.87,350.72 L1072.23,351.66 L1073.59,352.60 L1074.95,353.54 L1076.31,354.48 L1077.68,355.42 L1079.04,356.36 L1080.41,357.29 L1081.78,358.23 L1083.16,359.17 L1084.53,360.10 L1085.91,361.03 L1087.29,361.97 L1088.67,362.90 L1090.05,363.84 L1091.43,364.77 L1092.81,365.71 L1094.19,366.65 L1095.57,367.59 L1096.94,368.54 L1098.31,369.48 L1099.68,370.44 L1101.04,371.39 L1102.40,372.36 L1103.75,373.32 L1105.10,374.29 L1106.44,375.27 L1107.77,376.26 L1109.09,377.25 L1110.41,378.25 L1111.71,379.26 L1113.01,380.27 L1114.30,381.30 L1115.57,382.33 L1116.83,383.38 L1118.08,384.43 L1119.32,385.49 L1120.55,386.57 L1121.76,387.66 L1122.96,388.75 L1124.14,389.86 L1125.30,390.99 L1126.45,392.13 L1127.59,393.28 L1128.70,394.44 L1129.80,395.62 L1130.88,396.82 L1131.94,398.03 L1132.98,399.25 L1134.00,400.49 L1135.00,401.75 L1135.97,403.03 L1136.93,404.32 L1137.86,405.64 L1138.77,406.96 L1139.66,408.31 L1140.53,409.67 L1141.38,411.05 L1142.20,412.44 L1143.01,413.85 L1143.80,415.27 L1144.56,416.71 L1145.31,418.15 L1146.04,419.62 L1146.75,421.09 L1147.45,422.58 L1148.12,424.07 L1148.78,425.58 L1149.42,427.10 L1150.04,428.63 L1150.65,430.17 L1151.24,431.72 L1151.82,433.27 L1152.38,434.84 L1152.92,436.41 L1153.45,437.99 L1153.97,439.58 L1154.47,441.17 L1154.96,442.77 L1155.43,444.37 L1155.89,445.98 L1156.34,447.59 L1156.78,449.21 L1157.20,450.83 L1157.61,452.45 L1158.01,454.08 L1158.40,455.71 L1158.78,457.34 L1159.15,458.97 L1159.51,460.60 L1159.86,462.24 L1160.20,463.87 L1160.52,465.50 L1160.85,467.13 L1161.16,468.76 L1161.46,470.39 L1161.76,472.01 L1162.05,473.63 L1162.33,475.25 L1162.61,476.86 L1162.88,478.47 L1163.14,480.08 L1163.39,481.68 L1163.65,483.27 L1163.89,484.86 L1164.13,486.44 L1164.37,488.01 L1164.61,489.57 L1164.83,491.13 L1165.06,492.68 L1165.28,494.22" stroke="#FF0080" stroke-dasharray="7 8.5"/>
<path d="M880.83,254.06 L881.02,255.19 L881.23,256.32 L881.44,257.43 L881.67,258.54 L881.90,259.65 L882.15,260.74 L882.41,261.83 L882.68,262.92 L882.95,263.99 L883.24,265.06 L883.54,266.13 L883.85,267.19 L884.17,268.24 L884.50,269.28 L884.84,270.32 L885.19,271.36 L885.55,272.39 L885.92,273.41 L886.30,274.42 L886.69,275.44 L887.08,276.44 L887.49,277.44 L887.90,278.43 L888.33,279.42 L888.76,280.41 L889.20,281.38 L889.65,282.36 L890.10,283.32 L890.57,284.29 L891.04,285.24 L891.52,286.20 L892.01,287.14 L892.51,288.09 L893.01,289.02 L893.52,289.96 L894.04,290.88 L894.57,291.81 L895.10,292.73 L895.64,293.64 L896.19,294.55 L896.74,295.46 L897.30,296.36 L897.87,297.25 L898.44,298.15 L899.02,299.03 L899.61,299.92 L900.20,300.80 L900.80,301.67 L901.40,302.55 L902.01,303.42 L902.63,304.28 L903.25,305.14 L903.87,306.00 L904.50,306.85 L905.14,307.70 L905.78,308.55 L906.42,309.40 L907.07,310.24 L907.73,311.08 L908.39,311.91 L909.05,312.74 L909.72,313.57 L910.39,314.40 L911.06,315.23 L911.74,316.05 L912.43,316.87 L913.11,317.69 L913.80,318.50 L914.49,319.32 L915.19,320.13 L915.89,320.94 L916.59,321.75 L917.29,322.56 L918.00,323.36 L918.71,324.16 L919.42,324.97 L920.14,325.77 L920.85,326.57 L921.57,327.37 L922.29,328.16 L923.01,328.96 L923.74,329.76 L924.46,330.55 L925.19,331.35 L925.91,332.14 L926.64,332.94 L927.37,333.73 L928.10,334.52 L928.83,335.32 L929.57,336.11 L930.30,336.90 L931.03,337.70 L931.76,338.49 L932.50,339.28 L933.23,340.08 L933.96,340.87 L934.69,341.67 L935.42,342.47 L936.15,343.26 L936.88,344.06 L937.61,344.86 L938.34,345.66 L939.07,346.46 L939.80,347.26 L940.52,348.07 L941.25,348.87 L941.97,349.68 L942.69,350.49 L943.41,351.30 L944.12,352.11 L944.84,352.92 L945.55,353.74 L946.26,354.56 L946.97,355.38 L947.67,356.20 L948.37,357.02 L949.08,357.85 L949.77,358.68 L950.47,359.51 L951.16,360.34 L951.85,361.18 L952.54,362.01 L953.23,362.85 L953.91,363.69 L954.59,364.53 L955.27,365.38 L955.95,366.22 L956.62,367.07 L957.29,367.92 L957.96,368.77 L958.63,369.63 L959.29,370.48 L959.95,371.34 L960.61,372.20 L961.26,373.06 L961.91,373.93 L962.56,374.79 L963.21,375.66 L963.85,376.53 L964.49,377.40 L965.13,378.28 L965.76,379.15 L966.40,380.03 L967.02,380.91 L967.65,381.79 L968.27,382.67 L968.89,383.56 L969.51,384.45 L970.12,385.34 L970.73,386.23 L971.34,387.12 L971.94,388.02 L972.54,388.91 L973.14,389.81 L973.73,390.71 L974.32,391.62 L974.91,392.52 L975.49,393.43 L976.07,394.34 L976.65,395.25 L977.22,396.16 L977.79,397.07 L978.36,397.99 L978.92,398.91 L979.48,399.83 L980.04,400.75 L980.59,401.68 L981.14,402.60 L981.68,403.53 L982.22,404.46 L982.76,405.39 L983.30,406.33 L983.83,407.26 L984.35,408.20 L984.88,409.14 L985.39,410.08 L985.91,411.02 L986.42,411.97 L986.93,412.91 L987.43,413.86 L987.93,414.81 L988.43,415.77 L988.92,416.72 L989.40,417.68 L989.89,418.64 L990.37,419.60 L990.84,420.56 L991.31,421.52 L991.78,422.49 L992.24,423.46 L992.70,424.42 L993.16,425.40 L993.61,426.37 L994.05,427.34 L994.49,428.32 L994.93,429.30 L995.37,430.28 L995.79,431.26 L996.22,432.25 L996.64,433.23 L997.05,434.22 L997.46,435.21 L997.87,436.20 L998.27,437.20 L998.67,438.19 L999.06,439.19 L999.45,440.19 L999.83,441.19 L1000.21,442.19 L1000.59,443.20 L1000.96,444.21 L1001.32,445.21 L1001.68,446.22 L1002.04,447.24 L1002.39,448.25 L1002.73,449.27 L1003.08,450.28 L1003.41,451.30 L1003.74,452.32 L1004.07,453.35 L1004.39,454.37 L1004.71,455.40 L1005.02,456.43 L1005.32,457.46 L1005.63,458.49 L1005.92,459.52 L1006.21,460.56 L1006.50,461.59 L1006.78,462.63 L1007.06,463.67 L1007.33,464.72 L1007.59,465.76 L1007.85,466.81 L1008.11,467.86 L1008.36,468.91 L1008.60,469.96 L1008.84,471.01 L1009.07,472.07 L1009.30,473.12 L1009.52,474.18 L1009.74,475.24 L1009.95,476.31 L1010.16,477.37 L1010.36,478.44 L1010.55,479.50 L1010.74,480.57 L1010.93,481.64 L1011.11,482.72 L1011.28,483.79 L1011.45,484.87 L1011.61,485.95 L1011.76,487.03 L1011.91,488.11 L1012.06,489.19 L1012.19,490.28 L1012.33,491.36 L1012.45,492.45 L1012.57,493.54 L1012.69,494.64" stroke="#FF0080"/>
<path d="M880.47,244.29 L880.39,245.60 L880.34,246.90 L880.33,248.20 L880.35,249.49 L880.40,250.78 L880.49,252.05 L880.61,253.32 L880.76,254.58 L880.95,255.83 L881.16,257.07 L881.41,258.31 L881.68,259.53 L881.98,260.75 L882.32,261.95 L882.67,263.15 L883.06,264.33 L883.47,265.51 L883.91,266.67 L884.38,267.83 L884.87,268.97 L885.38,270.10 L885.92,271.22 L886.47,272.33 L887.06,273.43 L887.66,274.51 L888.29,275.59 L888.93,276.65 L889.60,277.69 L890.29,278.73 L890.99,279.75 L891.71,280.76 L892.45,281.75 L893.21,282.74 L893.99,283.70 L894.78,284.66 L895.58,285.59 L896.40,286.52 L897.24,287.43 L898.09,288.33 L898.95,289.22 L899.83,290.10 L900.71,290.96 L901.61,291.82 L902.52,292.66 L903.44,293.50 L904.37,294.33 L905.31,295.15 L906.26,295.96 L907.21,296.76 L908.18,297.55 L909.15,298.34 L910.12,299.13 L911.10,299.90 L912.09,300.68 L913.08,301.45 L914.08,302.21 L915.08,302.97 L916.08,303.73 L917.09,304.48 L918.10,305.24 L919.11,305.99 L920.12,306.74 L921.12,307.49 L922.13,308.24 L923.14,308.99 L924.15,309.74 L925.15,310.49 L926.16,311.24 L927.16,312.00 L928.15,312.76 L929.15,313.52 L930.14,314.28 L931.12,315.05 L932.11,315.81 L933.09,316.58 L934.07,317.35 L935.05,318.13 L936.03,318.90 L937.00,319.68 L937.97,320.46 L938.93,321.24 L939.90,322.02 L940.86,322.81 L941.82,323.59 L942.78,324.38 L943.74,325.17 L944.69,325.96 L945.64,326.76 L946.59,327.55 L947.54,328.35 L948.49,329.15 L949.43,329.95 L950.37,330.76 L951.31,331.56 L952.25,332.37 L953.19,333.18 L954.12,333.99 L955.06,334.80 L955.99,335.61 L956.92,336.42 L957.85,337.24 L958.77,338.06 L959.70,338.88 L960.62,339.70 L961.55,340.52 L962.47,341.34 L963.39,342.17 L964.31,343.00 L965.22,343.82 L966.14,344.65 L967.05,345.49 L967.97,346.32 L968.88,347.15 L969.79,347.99 L970.71,348.82 L971.62,349.66 L972.52,350.50 L973.43,351.34 L974.34,352.18 L975.25,353.02 L976.15,353.87 L977.06,354.71 L977.97,355.56 L978.87,356.41 L979.77,357.26 L980.68,358.11 L981.58,358.96 L982.48,359.81 L983.39,360.66 L984.29,361.52 L985.19,362.37 L986.09,363.23 L986.99,364.09 L987.89,364.95 L988.79,365.80 L989.70,366.66 L990.60,367.53 L991.50,368.39 L992.40,369.25 L993.30,370.12 L994.20,370.98 L995.10,371.85 L996.01,372.71 L996.91,373.58 L997.81,374.45 L998.71,375.32 L999.62,376.19 L1000.52,377.06 L1001.42,377.93 L1002.33,378.80 L1003.23,379.67 L1004.14,380.55 L1005.04,381.42 L1005.95,382.30 L1006.85,383.17 L1007.75,384.05 L1008.65,384.93 L1009.55,385.81 L1010.45,386.70 L1011.35,387.58 L1012.25,388.47 L1013.14,389.36 L1014.03,390.25 L1014.92,391.14 L1015.81,392.03 L1016.69,392.93 L1017.58,393.83 L1018.45,394.73 L1019.33,395.64 L1020.20,396.54 L1021.07,397.45 L1021.94,398.36 L1022.80,399.28 L1023.65,400.20 L1024.51,401.12 L1025.35,402.04 L1026.20,402.97 L1027.04,403.90 L1027.87,404.83 L1028.70,405.77 L1029.52,406.71 L1030.34,407.66 L1031.15,408.61 L1031.96,409.56 L1032.76,410.52 L1033.55,411.48 L1034.34,412.44 L1035.12,413.41 L1035.90,414.38 L1036.66,415.36 L1037.42,416.34 L1038.17,417.33 L1038.92,418.32 L1039.66,419.31 L1040.39,420.31 L1041.11,421.32 L1041.82,422.33 L1042.52,423.35 L1043.22,424.37 L1043.91,425.39 L1044.58,426.42 L1045.25,427.46 L1045.91,428.50 L1046.56,429.55 L1047.20,430.60 L1047.83,431.66 L1048.45,432.73 L1049.06,433.80 L1049.66,434.88 L1050.25,435.96 L1050.83,437.05 L1051.39,438.15 L1051.95,439.25 L1052.49,440.36 L1053.02,441.47 L1053.55,442.60 L1054.05,443.72 L1054.55,444.86 L1055.04,446.00 L1055.51,447.15 L1055.97,448.31 L1056.42,449.47 L1056.86,450.64 L1057.28,451.81 L1057.70,452.99 L1058.11,454.17 L1058.50,455.36 L1058.88,456.55 L1059.26,457.75 L1059.62,458.95 L1059.97,460.15 L1060.32,461.36 L1060.65,462.58 L1060.98,463.79 L1061.29,465.01 L1061.60,466.23 L1061.90,467.45 L1062.19,468.68 L1062.47,469.91 L1062.74,471.14 L1063.00,472.37 L1063.26,473.60 L1063.51,474.83 L1063.75,476.06 L1063.98,477.30 L1064.21,478.53 L1064.43,479.77 L1064.64,481.00 L1064.85,482.24 L1065.05,483.47 L1065.24,484.70 L1065.43,485.93 L1065.61,487.16 L1065.78,488.39 L1065.95,489.61 L1066.12,490.84 L1066.28,492.06 L1066.43,493.28 L1066.58,494.50" stroke="#FF00FF" stroke-dasharray="7 8.5"/>
<path d="M881.20,283.70 L881.24,284.58 L881.30,285.45 L881.35,286.32 L881.41,287.19 L881.47,288.06 L881.53,288.93 L881.60,289.80 L881.67,290.67 L881.74,291.54 L881.82,292.40 L881.90,293.27 L881.98,294.13 L882.07,294.99 L882.15,295.86 L882.25,296.72 L882.34,297.58 L882.44,298.44 L882.54,299.29 L882.64,300.15 L882.75,301.01 L882.86,301.87 L882.97,302.72 L883.08,303.57 L883.20,304.43 L883.32,305.28 L883.45,306.13 L883.57,306.98 L883.70,307.83 L883.83,308.68 L883.97,309.53 L884.11,310.38 L884.25,311.23 L884.39,312.07 L884.53,312.92 L884.68,313.76 L884.83,314.61 L884.98,315.45 L885.14,316.29 L885.30,317.13 L885.46,317.97 L885.62,318.81 L885.79,319.65 L885.96,320.49 L886.13,321.33 L886.30,322.16 L886.47,323.00 L886.65,323.84 L886.83,324.67 L887.01,325.51 L887.20,326.34 L887.39,327.17 L887.58,328.00 L887.77,328.84 L887.96,329.67 L888.16,330.50 L888.36,331.33 L888.56,332.15 L888.76,332.98 L888.97,333.81 L889.17,334.64 L889.38,335.46 L889.59,336.29 L889.81,337.11 L890.02,337.94 L890.24,338.76 L890.46,339.58 L890.68,340.41 L890.91,341.23 L891.13,342.05 L891.36,342.87 L891.59,343.69 L891.82,344.51 L892.06,345.33 L892.29,346.15 L892.53,346.96 L892.77,347.78 L893.01,348.60 L893.25,349.41 L893.50,350.23 L893.74,351.04 L893.99,351.86 L894.24,352.67 L894.49,353.49 L894.74,354.30 L895.00,355.11 L895.26,355.92 L895.51,356.74 L895.77,357.55 L896.04,358.36 L896.30,359.17 L896.56,359.98 L896.83,360.79 L897.10,361.59 L897.37,362.40 L897.64,363.21 L897.91,364.02 L898.18,364.82 L898.46,365.63 L898.73,366.44 L899.01,367.24 L899.29,368.05 L899.57,368.85 L899.85,369.66 L900.13,370.46 L900.42,371.26 L900.70,372.07 L900.99,372.87 L901.28,373.67 L901.57,374.47 L901.86,375.28 L902.15,376.08 L902.44,376.88 L902.74,377.68 L903.03,378.48 L903.33,379.28 L903.63,380.08 L903.93,380.88 L904.22,381.68 L904.53,382.47 L904.83,383.27 L905.13,384.07 L905.43,384.87 L905.74,385.67 L906.04,386.46 L906.35,387.26 L906.66,388.06 L906.96,388.85 L907.27,389.65 L907.58,390.44 L907.89,391.24 L908.20,392.03 L908.52,392.83 L908.83,393.62 L909.14,394.42 L909.46,395.21 L909.77,396.01 L910.09,396.80 L910.40,397.59 L910.72,398.39 L911.04,399.18 L911.36,399.97 L911.68,400.77 L911.99,401.56 L912.31,402.35 L912.63,403.14 L912.96,403.94 L913.28,404.73 L913.60,405.52 L913.92,406.31 L914.24,407.10 L914.57,407.89 L914.89,408.69 L915.21,409.48 L915.54,410.27 L915.86,411.06 L916.19,411.85 L916.51,412.64 L916.84,413.43 L917.16,414.22 L917.49,415.01 L917.81,415.80 L918.14,416.59 L918.46,417.38 L918.79,418.17 L919.12,418.96 L919.44,419.76 L919.77,420.55 L920.09,421.34 L920.42,422.13 L920.75,422.92 L921.07,423.71 L921.40,424.50 L921.72,425.29 L922.05,426.08 L922.37,426.87 L922.70,427.66 L923.02,428.45 L923.35,429.24 L923.67,430.03 L923.99,430.82 L924.32,431.62 L924.64,432.41 L924.96,433.20 L925.28,433.99 L925.61,434.78 L925.93,435.57 L926.25,436.36 L926.57,437.16 L926.89,437.95 L927.21,438.74 L927.53,439.53 L927.85,440.33 L928.16,441.12 L928.48,441.91 L928.80,442.70 L929.11,443.50 L929.43,444.29 L929.74,445.09 L930.05,445.88 L930.37,446.67 L930.68,447.47 L930.99,448.26 L931.30,449.06 L931.61,449.85 L931.92,450.65 L932.22,451.45 L932.53,452.24 L932.84,453.04 L933.14,453.84 L933.44,454.63 L933.75,455.43 L934.05,456.23 L934.35,457.03 L934.65,457.82 L934.95,458.62 L935.24,459.42 L935.54,460.22 L935.83,461.02 L936.13,461.82 L936.42,462.62 L936.71,463.42 L937.00,464.22 L937.29,465.03 L937.57,465.83 L937.86,466.63 L938.14,467.43 L938.42,468.24 L938.71,469.04 L938.99,469.85 L939.26,470.65 L939.54,471.46 L939.82,472.26 L940.09,473.07 L940.36,473.88 L940.63,474.68 L940.90,475.49 L941.17,476.30 L941.43,477.11 L941.70,477.92 L941.96,478.73 L942.22,479.54 L942.48,480.35 L942.73,481.16 L942.99,481.97 L943.24,482.78 L943.49,483.60 L943.74,484.41 L943.99,485.22 L944.24,486.04 L944.48,486.86 L944.72,487.67 L944.96,488.49 L945.20,489.31 L945.43,490.12 L945.67,490.94 L945.90,491.76 L946.13,492.58 L946.35,493.40 L946.58,494.22" stroke="#FF00FF"/>
</g>
<line x1="1059.10" y1="192.60" x2="1131.90" y2="192.60" stroke="#000000" stroke-width="2.3" />
<path d="M1049.10,192.60L1063.10,188.80L1062.30,192.60L1063.10,196.40Z" fill="#000000" stroke="#000000" stroke-width="0.6" stroke-linejoin="round"/>
<text x="1138.60" y="200.00" font-size="25.2" text-anchor="start" fill="#000000" >0.1C</text>
<line x1="1095.50" y1="230.60" x2="1188.50" y2="230.60" stroke="#FF0000" stroke-width="2.3" />
<path d="M1085.50,230.60L1099.50,226.80L1098.70,230.60L1099.50,234.40Z" fill="#FF0000" stroke="#FF0000" stroke-width="0.6" stroke-linejoin="round"/>
<text x="1196.20" y="239.30" font-size="25.2" text-anchor="start" fill="#FF0000" >0.5C</text>
<line x1="1110.60" y1="273.10" x2="1222.80" y2="273.10" stroke="#0000FF" stroke-width="2.3" />
<path d="M1100.60,273.10L1114.60,269.30L1113.80,273.10L1114.60,276.90Z" fill="#0000FF" stroke="#0000FF" stroke-width="0.6" stroke-linejoin="round"/>
<text x="1230.60" y="278.90" font-size="25.2" text-anchor="start" fill="#0000FF" >1C</text>
<line x1="1110.40" y1="313.70" x2="1278.30" y2="313.70" stroke="#00FF00" stroke-width="2.3" />
<path d="M1100.40,313.70L1114.40,309.90L1113.60,313.70L1114.40,317.50Z" fill="#00FF00" stroke="#00FF00" stroke-width="0.6" stroke-linejoin="round"/>
<text x="1285.60" y="320.80" font-size="25.2" text-anchor="start" fill="#00FF00" >2C</text>
<line x1="1086.60" y1="356.50" x2="1308.40" y2="356.50" stroke="#FF8000" stroke-width="2.3" />
<path d="M1076.60,356.50L1090.60,352.70L1089.80,356.50L1090.60,360.30Z" fill="#FF8000" stroke="#FF8000" stroke-width="0.6" stroke-linejoin="round"/>
<text x="1318.20" y="366.20" font-size="25.2" text-anchor="start" fill="#FF8000" >3C</text>
<line x1="996.50" y1="401.40" x2="1325.80" y2="401.40" stroke="#FF0080" stroke-width="2.3" />
<path d="M986.50,401.40L1000.50,397.60L999.70,401.40L1000.50,405.20Z" fill="#FF0080" stroke="#FF0080" stroke-width="0.6" stroke-linejoin="round"/>
<text x="1330.40" y="409.20" font-size="25.2" text-anchor="start" fill="#FF0080" >4C</text>
<line x1="943.00" y1="445.00" x2="1327.70" y2="445.00" stroke="#FF00FF" stroke-width="2.3" />
<path d="M933.00,445.00L947.00,441.20L946.20,445.00L947.00,448.80Z" fill="#FF00FF" stroke="#FF00FF" stroke-width="0.6" stroke-linejoin="round"/>
<text x="1333.20" y="453.40" font-size="25.2" text-anchor="start" fill="#FF00FF" >5C</text>
<line x1="1320.60" y1="36.20" x2="1377.10" y2="36.20" stroke="#000000" stroke-width="2.3" />
<line x1="1320.6" y1="66.8" x2="1377.1" y2="66.8" stroke="#000" stroke-width="2.3" stroke-dasharray="7.7 8.8"/>
<text x="1384.00" y="43.90" font-size="24.8" text-anchor="start" fill="#000" >Pristine</text>
<text x="1384.00" y="74.50" font-size="24.8" text-anchor="start" fill="#000" >LiP-0.1</text>
<rect x="880.10" y="15.70" width="593.30" height="478.80" fill="none" stroke="#000" stroke-width="2.2"/>
</svg>
</body></html>
